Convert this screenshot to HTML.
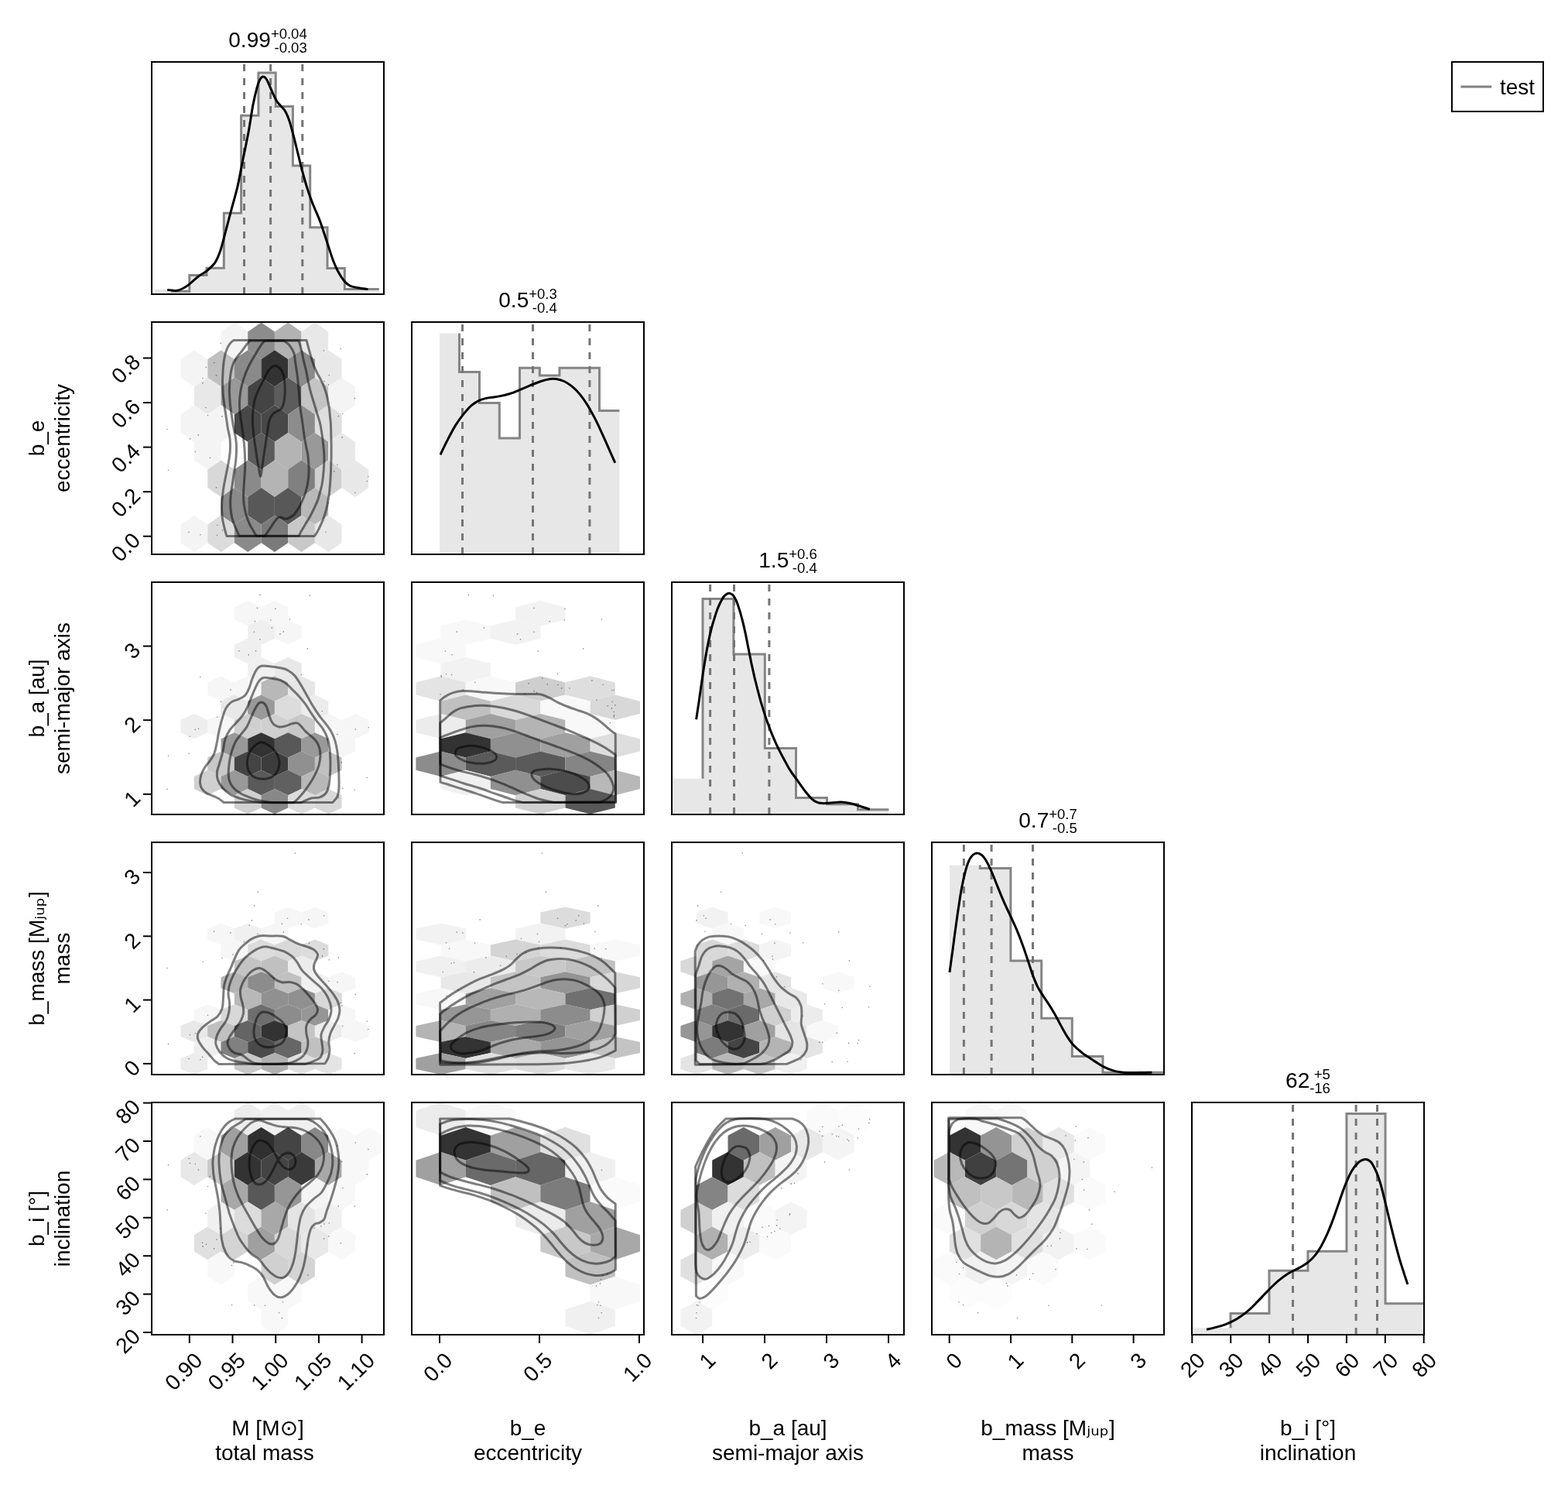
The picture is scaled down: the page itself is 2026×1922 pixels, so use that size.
<!DOCTYPE html>
<html lang="en"><head><meta charset="utf-8"><title>Corner plot</title>
<style>
html,body{margin:0;padding:0;background:#fff;}
body{width:2026px;height:1922px;overflow:hidden;}
svg{display:block;}
.t, .t text{font-family:"Liberation Sans","DejaVu Sans",sans-serif;font-size:28px;fill:#000;}
.dj{font-family:"DejaVu Sans","Liberation Sans",sans-serif;}
.sub{font-size:28.5px;}
.t text.ss{font-size:18.5px;}
</style></head><body>
<svg width="2026" height="1922" viewBox="0 0 2026 1922">
<rect width="2026" height="1922" fill="#fff"/>
<g><clipPath id="c00"><rect x="196" y="80" width="300" height="300"/></clipPath>
<g clip-path="url(#c00)">
<path d="M200.2,380L200.2,373.8L222.5,373.8L222.5,376.3L244.8,376.3L244.8,355.6L267.0,355.6L267.0,346.3L289.3,346.3L289.3,275.3L311.6,275.3L311.6,149.2L333.9,149.2L333.9,94.1L356.2,94.1L356.2,137.6L378.4,137.6L378.4,214.1L400.7,214.1L400.7,293.8L423.0,293.8L423.0,346.4L445.3,346.4L445.3,373.5L467.6,373.5L467.6,373.5L489.8,373.5L489.8,380Z" fill="#e7e7e7"/>
<path d="M222.5,373.8L222.5,376.3L244.8,376.3L244.8,355.6L267.0,355.6L267.0,346.3L289.3,346.3L289.3,275.3L311.6,275.3L311.6,149.2L333.9,149.2L333.9,94.1L356.2,94.1L356.2,137.6L378.4,137.6L378.4,214.1L400.7,214.1L400.7,293.8L423.0,293.8L423.0,346.4L445.3,346.4L445.3,373.5L467.6,373.5L467.6,373.5L489.8,373.5" fill="none" stroke="#858585" stroke-width="3" stroke-linejoin="miter"/>
<line x1="315.5" y1="83" x2="315.5" y2="380" stroke="#757575" stroke-width="3" stroke-dasharray="9 9"/>
<line x1="349.6" y1="83" x2="349.6" y2="380" stroke="#757575" stroke-width="3" stroke-dasharray="9 9"/>
<line x1="390.8" y1="83" x2="390.8" y2="380" stroke="#757575" stroke-width="3" stroke-dasharray="9 9"/>
<path d="M216.2,374.4C218.1,374.6 224.1,375.5 227.1,375.4C230.1,375.2 231.7,374.7 234.4,373.5C237.1,372.3 239.8,370.8 243.4,368.1C247.1,365.4 252.2,360.2 256.1,357.2C260.0,354.2 263.4,353.0 267.0,350.0C270.6,347.0 274.8,343.6 277.9,339.1C280.9,334.6 282.7,330.0 285.1,322.8C287.5,315.5 290.0,304.7 292.4,295.6C294.8,286.5 297.2,277.5 299.6,268.4C302.0,259.4 304.4,251.8 306.9,241.2C309.3,230.7 311.7,217.1 314.1,205.0C316.5,192.9 319.3,180.2 321.4,168.7C323.5,157.3 325.0,145.5 326.8,136.1C328.6,126.8 330.7,118.1 332.2,112.6C333.7,107.0 334.7,104.9 335.9,102.6C337.1,100.3 338.3,99.3 339.5,99.0C340.7,98.7 341.9,99.4 343.1,100.8C344.3,102.1 345.2,103.9 346.7,107.1C348.2,110.3 350.4,115.9 352.2,119.8C354.0,123.7 355.8,127.8 357.6,130.7C359.4,133.6 361.2,134.9 363.0,137.0C364.9,139.1 366.7,140.2 368.5,143.4C370.3,146.5 372.1,150.6 373.9,156.1C375.7,161.5 377.5,169.0 379.4,176.0C381.2,182.9 383.0,190.5 384.8,197.7C386.6,205.0 388.1,211.6 390.2,219.5C392.3,227.3 395.1,237.3 397.5,244.9C399.9,252.4 402.0,257.9 404.7,264.8C407.5,271.7 410.8,278.4 413.8,286.5C416.8,294.7 420.1,305.6 422.9,313.7C425.6,321.9 427.7,329.1 430.1,335.5C432.5,341.8 434.9,347.3 437.4,351.8C439.8,356.3 442.2,359.8 444.6,362.7C447.0,365.5 448.8,367.5 451.9,369.0C454.9,370.5 458.8,371.0 462.7,371.7C466.7,372.5 473.3,373.2 475.4,373.5" fill="none" stroke="#000" stroke-width="3" stroke-linejoin="round"/>
</g></g>
<rect x="196" y="80" width="300" height="300" fill="none" stroke="#000" stroke-width="2"/>
<g><clipPath id="c10"><rect x="196" y="416" width="300" height="300"/></clipPath>
<g clip-path="url(#c10)">
<polygon points="302.9,416.6 320.2,428.5 320.2,452.2 302.9,464.0 285.6,452.2 285.6,428.5" fill="#f4f4f4"/>
<polygon points="337.6,416.6 354.9,428.5 354.9,452.2 337.6,464.0 320.2,452.2 320.2,428.5" fill="#8c8c8c"/>
<polygon points="372.2,416.6 389.5,428.5 389.5,452.2 372.2,464.0 354.9,452.2 354.9,428.5" fill="#b2b2b2"/>
<polygon points="406.9,416.6 424.2,428.5 424.2,452.2 406.9,464.0 389.6,452.2 389.6,428.5" fill="#e8e8e8"/>
<polygon points="250.9,452.2 268.3,464.0 268.3,487.8 250.9,499.6 233.6,487.8 233.6,464.0" fill="#f4f4f4"/>
<polygon points="285.6,452.2 302.9,464.0 302.9,487.8 285.6,499.6 268.3,487.8 268.3,464.0" fill="#c0c0c0"/>
<polygon points="320.2,452.2 337.6,464.0 337.6,487.8 320.2,499.6 302.9,487.8 302.9,464.0" fill="#8a8a8a"/>
<polygon points="354.9,452.2 372.2,464.0 372.2,487.8 354.9,499.6 337.6,487.8 337.6,464.0" fill="#333333"/>
<polygon points="389.5,452.2 406.9,464.0 406.9,487.8 389.5,499.6 372.2,487.8 372.2,464.0" fill="#8a8a8a"/>
<polygon points="424.2,452.2 441.5,464.0 441.5,487.8 424.2,499.6 406.9,487.8 406.9,464.0" fill="#e8e8e8"/>
<polygon points="268.3,487.8 285.6,499.6 285.6,523.3 268.3,535.2 250.9,523.3 250.9,499.6" fill="#e8e8e8"/>
<polygon points="302.9,487.8 320.2,499.6 320.2,523.3 302.9,535.2 285.6,523.3 285.6,499.6" fill="#999999"/>
<polygon points="337.6,487.8 354.9,499.6 354.9,523.3 337.6,535.2 320.2,523.3 320.2,499.6" fill="#444444"/>
<polygon points="372.2,487.8 389.5,499.6 389.5,523.3 372.2,535.2 354.9,523.3 354.9,499.6" fill="#5c5c5c"/>
<polygon points="406.9,487.8 424.2,499.6 424.2,523.3 406.9,535.2 389.6,523.3 389.6,499.6" fill="#c4c4c4"/>
<polygon points="441.5,487.8 458.8,499.6 458.8,523.3 441.5,535.2 424.2,523.3 424.2,499.6" fill="#f4f4f4"/>
<polygon points="250.9,523.3 268.3,535.2 268.3,558.9 250.9,570.8 233.6,558.9 233.6,535.2" fill="#f4f4f4"/>
<polygon points="285.6,523.3 302.9,535.2 302.9,558.9 285.6,570.8 268.3,558.9 268.3,535.2" fill="#f4f4f4"/>
<polygon points="320.2,523.3 337.6,535.2 337.6,558.9 320.2,570.8 302.9,558.9 302.9,535.2" fill="#484848"/>
<polygon points="354.9,523.3 372.2,535.2 372.2,558.9 354.9,570.8 337.6,558.9 337.6,535.2" fill="#484848"/>
<polygon points="389.5,523.3 406.9,535.2 406.9,558.9 389.5,570.8 372.2,558.9 372.2,535.2" fill="#8c8c8c"/>
<polygon points="424.2,523.3 441.5,535.2 441.5,558.9 424.2,570.8 406.9,558.9 406.9,535.2" fill="#dedede"/>
<polygon points="268.3,558.9 285.6,570.8 285.6,594.5 268.3,606.4 250.9,594.5 250.9,570.8" fill="#f4f4f4"/>
<polygon points="337.6,558.9 354.9,570.8 354.9,594.5 337.6,606.4 320.2,594.5 320.2,570.8" fill="#5c5c5c"/>
<polygon points="372.2,558.9 389.5,570.8 389.5,594.5 372.2,606.4 354.9,594.5 354.9,570.8" fill="#b4b4b4"/>
<polygon points="406.9,558.9 424.2,570.8 424.2,594.5 406.9,606.4 389.6,594.5 389.6,570.8" fill="#999999"/>
<polygon points="441.5,558.9 458.8,570.8 458.8,594.5 441.5,606.4 424.2,594.5 424.2,570.8" fill="#e8e8e8"/>
<polygon points="285.6,594.5 302.9,606.4 302.9,630.1 285.6,641.9 268.3,630.1 268.3,606.4" fill="#d8d8d8"/>
<polygon points="320.2,594.5 337.6,606.4 337.6,630.1 320.2,641.9 302.9,630.1 302.9,606.4" fill="#8a8a8a"/>
<polygon points="354.9,594.5 372.2,606.4 372.2,630.1 354.9,641.9 337.6,630.1 337.6,606.4" fill="#b4b4b4"/>
<polygon points="389.5,594.5 406.9,606.4 406.9,630.1 389.5,641.9 372.2,630.1 372.2,606.4" fill="#808080"/>
<polygon points="424.2,594.5 441.5,606.4 441.5,630.1 424.2,641.9 406.9,630.1 406.9,606.4" fill="#d0d0d0"/>
<polygon points="458.8,594.5 476.2,606.4 476.2,630.1 458.8,641.9 441.5,630.1 441.5,606.4" fill="#e8e8e8"/>
<polygon points="302.9,630.1 320.2,641.9 320.2,665.7 302.9,677.5 285.6,665.7 285.6,641.9" fill="#8a8a8a"/>
<polygon points="337.6,630.1 354.9,641.9 354.9,665.7 337.6,677.5 320.2,665.7 320.2,641.9" fill="#585858"/>
<polygon points="372.2,630.1 389.5,641.9 389.5,665.7 372.2,677.5 354.9,665.7 354.9,641.9" fill="#585858"/>
<polygon points="406.9,630.1 424.2,641.9 424.2,665.7 406.9,677.5 389.6,665.7 389.6,641.9" fill="#b8b8b8"/>
<polygon points="250.9,665.7 268.3,677.5 268.3,701.2 250.9,713.1 233.6,701.2 233.6,677.5" fill="#f4f4f4"/>
<polygon points="285.6,665.7 302.9,677.5 302.9,701.2 285.6,713.1 268.3,701.2 268.3,677.5" fill="#dcdcdc"/>
<polygon points="320.2,665.7 337.6,677.5 337.6,701.2 320.2,713.1 302.9,701.2 302.9,677.5" fill="#8a8a8a"/>
<polygon points="354.9,665.7 372.2,677.5 372.2,701.2 354.9,713.1 337.6,701.2 337.6,677.5" fill="#7a7a7a"/>
<polygon points="389.5,665.7 406.9,677.5 406.9,701.2 389.5,713.1 372.2,701.2 372.2,677.5" fill="#c8c8c8"/>
<polygon points="424.2,665.7 441.5,677.5 441.5,701.2 424.2,713.1 406.9,701.2 406.9,677.5" fill="#e8e8e8"/>
<path d="M285.3,443.4h0M276.9,468.6h0M266.3,474.3h0M279.5,484.9h0M261.9,488.5h0M261.9,494.9h0M265.9,526.5h0M268.5,536.5h0M286.9,537.9h0M216.0,554.5h0M256.3,561.9h0M245.4,566.9h0M252.4,583.5h0M271.5,591.3h0M217.6,607.3h0M279.5,629.9h0M418.3,453.0h0M440.2,450.6h0M425.3,484.5h0M418.9,492.5h0M424.3,496.9h0M458.2,514.5h0M442.8,534.5h0M437.3,537.5h0M442.2,564.9h0M435.9,600.5h0M431.9,608.9h0M475.8,615.5h0M474.2,621.5h0M458.8,636.5h0M424.3,649.3h0M244.0,687.4h0M258.9,690.8h0M280.9,678.2h0M280.5,691.2h0M287.5,684.8h0M420.9,687.2h0" stroke="#000" stroke-opacity="0.45" stroke-width="1.6" stroke-linecap="round" fill="none"/>
<path d="M302.0,439.5L396.0,439.5C396.3,440.4 396.9,442.8 397.6,445.3C398.2,447.8 399.2,451.4 400.1,454.4C400.9,457.5 401.7,460.5 402.6,463.5C403.5,466.6 404.5,469.6 405.6,472.6C406.8,475.7 408.2,478.7 409.7,481.7C411.2,484.8 413.2,487.8 414.7,490.8C416.3,493.9 417.6,496.9 418.8,499.9C420.0,503.0 421.0,506.0 421.8,509.0C422.7,512.1 423.3,515.1 423.8,518.1C424.4,521.2 424.9,524.0 425.4,527.2C425.8,530.4 426.0,534.0 426.4,537.3C426.7,540.7 427.1,542.6 427.4,547.4C427.6,552.2 427.8,561.3 427.9,566.1C428.0,570.9 428.1,572.9 428.1,576.2C428.1,579.6 428.1,583.0 428.1,586.3C428.1,589.7 428.0,593.1 427.9,596.4C427.8,599.8 427.7,603.2 427.6,606.6C427.5,609.9 427.3,613.3 427.1,616.7C426.9,620.0 426.7,623.4 426.4,626.8C426.1,630.1 425.8,633.5 425.4,636.9C424.9,640.3 424.4,643.6 423.8,647.0C423.3,650.4 422.7,653.7 421.8,657.1C421.0,660.5 420.0,663.9 418.8,667.2C417.6,670.6 416.3,674.0 414.7,677.3C413.2,680.7 411.1,684.9 409.7,687.4C408.3,690.0 406.7,691.7 406.2,692.5L292.9,692.5C292.6,691.3 291.6,688.0 290.9,685.4C290.2,682.9 289.5,680.4 288.9,677.3C288.2,674.3 287.5,670.6 287.1,667.2C286.8,663.9 286.6,660.5 286.5,657.1C286.5,653.7 286.6,650.4 286.8,647.0C287.1,643.6 287.4,640.3 287.9,636.9C288.3,633.5 288.8,630.1 289.4,626.8C290.0,623.4 290.7,620.0 291.4,616.7C292.1,613.3 292.7,609.9 293.4,606.6C294.1,603.2 294.8,599.8 295.4,596.4C296.0,593.1 296.6,589.7 297.0,586.3C297.3,583.0 297.5,579.6 297.5,576.2C297.5,572.9 297.5,569.9 297.0,566.1C296.4,562.3 295.1,557.3 294.4,553.5C293.7,549.7 293.4,546.8 292.9,543.4C292.4,540.0 291.9,536.7 291.4,533.3C290.9,529.9 290.3,526.5 289.9,523.2C289.4,519.8 288.9,516.4 288.6,513.1C288.2,509.7 288.0,506.3 287.9,503.0C287.7,499.6 287.5,496.2 287.5,492.8C287.5,489.5 287.7,486.1 287.9,482.7C288.0,479.4 288.2,476.0 288.6,472.6C288.9,469.3 289.3,465.5 289.9,462.5C290.4,459.5 291.1,457.0 291.9,454.4C292.7,451.9 293.8,449.4 294.9,447.3C296.0,445.3 297.3,443.6 298.5,442.3C299.6,441.0 301.4,439.9 302.0,439.5Z" fill="none" stroke="#000" stroke-opacity="0.5" stroke-width="3" stroke-linejoin="round"/>
<path d="M322.7,440.1L385.9,440.1C386.3,441.1 387.2,443.6 388.0,446.3C388.7,449.1 389.7,453.1 390.5,456.4C391.2,459.8 391.7,463.2 392.5,466.6C393.3,469.9 394.3,473.3 395.0,476.7C395.8,480.0 396.4,483.4 397.1,486.8C397.7,490.1 398.3,493.5 399.1,496.9C399.8,500.3 400.7,503.6 401.6,507.0C402.5,510.4 403.6,513.7 404.6,517.1C405.6,520.5 406.7,523.9 407.7,527.2C408.7,530.6 409.7,534.0 410.7,537.3C411.7,540.7 412.7,542.6 413.7,547.4C414.7,552.2 416.1,561.3 416.8,566.1C417.4,570.9 417.4,572.9 417.8,576.2C418.1,579.6 418.6,583.0 418.8,586.3C419.0,589.7 418.9,593.1 418.8,596.4C418.7,599.8 418.5,603.2 418.3,606.6C418.0,609.9 417.7,613.3 417.3,616.7C416.9,620.0 416.4,623.4 415.8,626.8C415.1,630.1 414.2,633.5 413.2,636.9C412.3,640.3 411.5,643.6 410.2,647.0C408.9,650.4 407.2,653.7 405.6,657.1C404.0,660.5 402.4,663.9 400.6,667.2C398.7,670.6 396.5,674.0 394.5,677.3C392.5,680.7 389.8,685.0 388.5,687.4C387.1,689.9 386.8,691.4 386.4,692.2L309.1,692.2C308.6,691.1 307.1,687.9 306.1,685.4C305.0,682.9 303.6,680.4 302.5,677.3C301.4,674.3 300.2,670.6 299.5,667.2C298.7,663.9 298.3,660.5 298.0,657.1C297.7,653.7 297.6,650.4 297.7,647.0C297.7,643.6 298.1,640.3 298.5,636.9C298.9,633.5 299.5,630.1 300.0,626.8C300.5,623.4 301.0,620.0 301.5,616.7C302.0,613.3 302.5,609.9 303.0,606.6C303.5,603.2 304.1,599.8 304.5,596.4C304.9,593.1 305.2,589.7 305.3,586.3C305.5,583.0 305.7,579.6 305.5,576.2C305.4,572.9 305.3,570.9 304.5,566.1C303.8,561.3 301.8,552.2 301.0,547.4C300.2,542.6 300.0,540.7 299.5,537.3C299.0,534.0 298.4,530.6 298.0,527.2C297.5,523.9 297.2,520.5 297.0,517.1C296.7,513.7 296.5,510.4 296.4,507.0C296.4,503.6 296.5,500.3 296.6,496.9C296.8,493.5 297.1,490.0 297.5,486.8C297.8,483.6 298.4,480.4 299.0,477.7C299.6,475.0 300.2,472.8 301.0,470.6C301.8,468.4 302.9,466.4 304.0,464.5C305.1,462.7 306.1,461.3 307.6,459.5C309.0,457.6 310.9,455.6 312.6,453.4C314.3,451.2 316.0,448.6 317.7,446.3C319.4,444.1 321.9,441.1 322.7,440.1Z" fill="none" stroke="#000" stroke-opacity="0.5" stroke-width="3" stroke-linejoin="round"/>
<path d="M341.9,440.3L367.2,440.3C368.4,441.3 372.2,443.6 374.3,446.3C376.4,449.0 378.7,453.1 379.9,456.4C381.0,459.8 380.9,463.2 381.4,466.6C381.9,469.9 382.4,473.3 382.9,476.7C383.4,480.0 384.0,483.4 384.4,486.8C384.8,490.1 385.1,493.5 385.4,496.9C385.8,500.3 386.2,503.6 386.4,507.0C386.7,510.4 386.7,513.7 386.9,517.1C387.2,520.5 387.5,523.9 388.0,527.2C388.4,530.6 389.0,534.0 389.5,537.3C390.0,540.7 390.3,542.6 391.0,547.4C391.7,552.2 392.8,561.3 393.5,566.1C394.3,570.9 394.9,572.9 395.5,576.2C396.2,579.6 397.1,583.0 397.6,586.3C398.1,589.7 398.3,593.1 398.6,596.4C398.8,599.8 399.1,603.2 399.1,606.6C399.1,609.9 398.9,613.3 398.6,616.7C398.2,620.0 397.7,623.4 397.1,626.8C396.4,630.1 395.6,633.5 394.5,636.9C393.4,640.3 392.0,643.6 390.5,647.0C389.0,650.4 387.3,654.1 385.4,657.1C383.6,660.1 381.4,663.2 379.4,665.2C377.3,667.2 375.1,668.4 373.3,669.2C371.4,670.1 369.9,670.4 368.2,670.3C366.5,670.1 364.7,668.5 363.2,668.2C361.7,668.0 360.5,667.9 359.1,668.7C357.8,669.6 356.4,671.5 355.1,673.3C353.7,675.1 352.4,677.3 351.0,679.4C349.7,681.4 348.3,683.6 347.0,685.4C345.7,687.3 344.4,689.4 343.5,690.5C342.5,691.6 341.8,691.9 341.4,692.2L331.3,692.2C330.7,691.2 329.2,688.9 327.8,686.4C326.4,684.0 324.3,680.5 322.7,677.3C321.2,674.1 319.8,670.6 318.7,667.2C317.6,663.9 316.8,660.5 316.2,657.1C315.5,653.7 315.1,650.4 314.8,647.0C314.6,643.6 314.6,640.3 314.6,636.9C314.7,633.5 314.9,630.1 315.2,626.8C315.4,623.4 315.6,620.0 315.9,616.7C316.1,613.3 316.3,609.9 316.5,606.6C316.6,603.2 316.7,599.8 316.7,596.4C316.7,593.1 316.5,589.7 316.4,586.3C316.2,583.0 315.9,579.6 315.7,576.2C315.4,572.9 315.2,570.9 314.6,566.1C314.1,561.3 312.8,552.2 312.1,547.4C311.4,542.6 311.0,540.7 310.6,537.3C310.2,534.0 309.8,530.6 309.6,527.2C309.4,523.9 309.4,520.5 309.6,517.1C309.8,513.7 310.1,510.4 310.6,507.0C311.1,503.6 311.8,500.3 312.6,496.9C313.5,493.5 314.5,490.1 315.7,486.8C316.8,483.4 318.2,480.0 319.7,476.7C321.2,473.3 322.9,469.9 324.8,466.6C326.6,463.2 328.8,459.8 330.8,456.4C332.8,453.1 335.0,449.0 336.9,446.3C338.7,443.6 341.1,441.3 341.9,440.3Z" fill="none" stroke="#000" stroke-opacity="0.5" stroke-width="3" stroke-linejoin="round"/>
<path d="M355.1,472.6C356.4,472.5 357.8,472.8 359.1,473.6C360.5,474.5 362.0,475.8 363.2,477.7C364.4,479.5 365.5,482.2 366.2,484.8C367.0,487.3 367.4,489.8 367.7,492.8C368.1,495.9 368.2,499.6 368.2,503.0C368.2,506.3 368.1,509.9 367.7,513.1C367.4,516.3 367.0,519.6 366.2,522.2C365.5,524.7 364.5,526.7 363.2,528.2C361.8,529.8 359.8,530.3 358.1,531.3C356.4,532.3 354.5,533.0 353.1,534.3C351.6,535.6 350.5,537.5 349.5,539.4C348.6,541.2 348.3,541.8 347.5,545.4C346.7,549.0 345.7,556.8 345.0,561.1C344.3,565.3 344.0,567.8 343.5,571.2C343.0,574.5 342.5,577.9 341.9,581.3C341.4,584.6 340.9,588.0 340.4,591.4C339.9,594.8 339.4,598.1 338.9,601.5C338.5,604.9 338.1,609.3 337.7,611.6C337.3,613.9 337.0,615.5 336.6,615.5C336.2,615.5 335.8,613.4 335.5,611.6C335.1,609.8 334.8,607.1 334.4,604.5C333.9,602.0 333.4,599.5 332.8,596.4C332.3,593.4 331.8,589.7 331.3,586.3C330.8,583.0 330.3,579.6 329.8,576.2C329.3,572.9 328.9,570.9 328.3,566.1C327.7,561.3 326.8,552.2 326.5,547.4C326.2,542.6 326.3,540.7 326.5,537.3C326.6,534.0 326.9,530.4 327.3,527.2C327.7,524.0 328.1,521.0 328.8,518.1C329.5,515.3 330.3,512.7 331.3,510.0C332.3,507.3 333.6,504.6 334.9,501.9C336.1,499.2 337.6,496.6 338.9,493.9C340.3,491.2 341.6,488.3 343.0,485.8C344.3,483.2 345.7,480.6 347.0,478.7C348.3,476.8 349.7,475.2 351.0,474.1C352.4,473.1 353.7,472.7 355.1,472.6Z" fill="none" stroke="#000" stroke-opacity="0.5" stroke-width="3" stroke-linejoin="round"/>
</g></g>
<rect x="196" y="416" width="300" height="300" fill="none" stroke="#000" stroke-width="2"/>
<g><clipPath id="c11"><rect x="532" y="416" width="300" height="300"/></clipPath>
<g clip-path="url(#c11)">
<path d="M568.0,716L568.0,430.6L593.5,430.6L593.5,480.5L619.5,480.5L619.5,520.5L645.3,520.5L645.3,565.9L671.5,565.9L671.5,475.3L697.3,475.3L697.3,484.9L722.9,484.9L722.9,475.3L748.9,475.3L748.9,475.3L774.5,475.3L774.5,530.5L800.4,530.5L800.4,716Z" fill="#e7e7e7"/>
<path d="M593.5,430.6L593.5,480.5L619.5,480.5L619.5,520.5L645.3,520.5L645.3,565.9L671.5,565.9L671.5,475.3L697.3,475.3L697.3,484.9L722.9,484.9L722.9,475.3L748.9,475.3L748.9,475.3L774.5,475.3L774.5,530.5L800.4,530.5" fill="none" stroke="#858585" stroke-width="3" stroke-linejoin="miter"/>
<line x1="597.5" y1="419" x2="597.5" y2="716" stroke="#757575" stroke-width="3" stroke-dasharray="9 9"/>
<line x1="688.5" y1="419" x2="688.5" y2="716" stroke="#757575" stroke-width="3" stroke-dasharray="9 9"/>
<line x1="761.9" y1="419" x2="761.9" y2="716" stroke="#757575" stroke-width="3" stroke-dasharray="9 9"/>
<path d="M569.0,587.3C570.6,583.9 575.6,573.3 579.0,566.9C582.3,560.5 585.6,554.2 588.9,548.9C592.3,543.6 595.6,539.1 598.9,534.9C602.3,530.8 605.6,526.9 608.9,523.9C612.3,521.0 615.3,519.0 618.9,517.3C622.6,515.7 626.6,514.8 630.9,513.9C635.3,513.0 640.3,512.8 644.9,511.9C649.6,511.0 654.6,509.9 658.9,508.5C663.2,507.2 666.6,505.7 670.9,503.9C675.2,502.2 680.2,499.8 684.9,497.9C689.6,496.0 694.6,493.9 698.9,492.5C703.2,491.1 707.6,490.0 710.9,489.5C714.2,489.0 715.9,489.0 718.9,489.5C721.9,490.0 725.5,491.0 728.9,492.5C732.2,494.1 735.5,496.2 738.9,498.9C742.2,501.7 745.5,504.9 748.9,508.9C752.2,512.9 755.5,517.6 758.9,522.9C762.2,528.3 765.5,534.4 768.9,540.9C772.2,547.4 775.9,555.4 778.8,561.9C781.8,568.4 784.2,573.9 786.8,579.9C789.5,585.9 793.5,594.9 794.8,597.9" fill="none" stroke="#000" stroke-width="3" stroke-linejoin="round"/>
</g></g>
<rect x="532" y="416" width="300" height="300" fill="none" stroke="#000" stroke-width="2"/>
<g><clipPath id="c20"><rect x="196" y="752" width="300" height="300"/></clipPath>
<g clip-path="url(#c20)">
<polygon points="320.2,776.1 337.5,784.2 337.5,800.4 320.2,808.5 302.8,800.4 302.8,784.2" fill="#f6f6f6"/>
<polygon points="354.9,776.1 372.2,784.2 372.2,800.4 354.9,808.5 337.5,800.4 337.5,784.2" fill="#f6f6f6"/>
<polygon points="337.5,800.4 354.9,808.5 354.9,824.7 337.5,832.8 320.2,824.7 320.2,808.5" fill="#efefef"/>
<polygon points="372.2,800.4 389.6,808.5 389.6,824.7 372.2,832.8 354.9,824.7 354.9,808.5" fill="#f6f6f6"/>
<polygon points="320.2,824.7 337.5,832.8 337.5,849.0 320.2,857.1 302.8,849.0 302.8,832.8" fill="#efefef"/>
<polygon points="337.5,849.0 354.9,857.1 354.9,873.3 337.5,881.4 320.2,873.3 320.2,857.1" fill="#f0f0f0"/>
<polygon points="372.2,849.0 389.6,857.1 389.6,873.3 372.2,881.4 354.9,873.3 354.9,857.1" fill="#e8e8e8"/>
<polygon points="285.5,873.3 302.8,881.4 302.8,897.6 285.5,905.7 268.1,897.6 268.1,881.4" fill="#f6f6f6"/>
<polygon points="320.2,873.3 337.5,881.4 337.5,897.6 320.2,905.7 302.8,897.6 302.8,881.4" fill="#f6f6f6"/>
<polygon points="354.9,873.3 372.2,881.4 372.2,897.6 354.9,905.7 337.5,897.6 337.5,881.4" fill="#b8b8b8"/>
<polygon points="389.6,873.3 406.9,881.4 406.9,897.6 389.6,905.7 372.2,897.6 372.2,881.4" fill="#e6e6e6"/>
<polygon points="302.8,897.6 320.2,905.7 320.2,921.9 302.8,930.0 285.5,921.9 285.5,905.7" fill="#e8e8e8"/>
<polygon points="337.5,897.6 354.9,905.7 354.9,921.9 337.5,930.0 320.2,921.9 320.2,905.7" fill="#999999"/>
<polygon points="372.2,897.6 389.6,905.7 389.6,921.9 372.2,930.0 354.9,921.9 354.9,905.7" fill="#dcdcdc"/>
<polygon points="406.9,897.6 424.3,905.7 424.3,921.9 406.9,930.0 389.6,921.9 389.6,905.7" fill="#ececec"/>
<polygon points="250.8,921.9 268.1,930.0 268.1,946.2 250.8,954.3 233.4,946.2 233.4,930.0" fill="#eeeeee"/>
<polygon points="285.5,921.9 302.8,930.0 302.8,946.2 285.5,954.3 268.1,946.2 268.1,930.0" fill="#f6f6f6"/>
<polygon points="320.2,921.9 337.5,930.0 337.5,946.2 320.2,954.3 302.8,946.2 302.8,930.0" fill="#d0d0d0"/>
<polygon points="354.9,921.9 372.2,930.0 372.2,946.2 354.9,954.3 337.5,946.2 337.5,930.0" fill="#d0d0d0"/>
<polygon points="389.6,921.9 406.9,930.0 406.9,946.2 389.6,954.3 372.2,946.2 372.2,930.0" fill="#c8c8c8"/>
<polygon points="424.3,921.9 441.6,930.0 441.6,946.2 424.3,954.3 406.9,946.2 406.9,930.0" fill="#f6f6f6"/>
<polygon points="459.0,921.9 476.4,930.0 476.4,946.2 459.0,954.3 441.6,946.2 441.6,930.0" fill="#f6f6f6"/>
<polygon points="302.8,946.2 320.2,954.3 320.2,970.5 302.8,978.6 285.5,970.5 285.5,954.3" fill="#999999"/>
<polygon points="337.5,946.2 354.9,954.3 354.9,970.5 337.5,978.6 320.2,970.5 320.2,954.3" fill="#333333"/>
<polygon points="372.2,946.2 389.6,954.3 389.6,970.5 372.2,978.6 354.9,970.5 354.9,954.3" fill="#585858"/>
<polygon points="406.9,946.2 424.3,954.3 424.3,970.5 406.9,978.6 389.6,970.5 389.6,954.3" fill="#999999"/>
<polygon points="441.6,946.2 459.0,954.3 459.0,970.5 441.6,978.6 424.3,970.5 424.3,954.3" fill="#f6f6f6"/>
<polygon points="285.5,970.5 302.8,978.6 302.8,994.8 285.5,1002.9 268.1,994.8 268.1,978.6" fill="#c8c8c8"/>
<polygon points="320.2,970.5 337.5,978.6 337.5,994.8 320.2,1002.9 302.8,994.8 302.8,978.6" fill="#444444"/>
<polygon points="354.9,970.5 372.2,978.6 372.2,994.8 354.9,1002.9 337.5,994.8 337.5,978.6" fill="#3c3c3c"/>
<polygon points="389.6,970.5 406.9,978.6 406.9,994.8 389.6,1002.9 372.2,994.8 372.2,978.6" fill="#909090"/>
<polygon points="424.3,970.5 441.6,978.6 441.6,994.8 424.3,1002.9 406.9,994.8 406.9,978.6" fill="#c0c0c0"/>
<polygon points="268.1,994.8 285.5,1002.9 285.5,1019.1 268.1,1027.2 250.8,1019.1 250.8,1002.9" fill="#d0d0d0"/>
<polygon points="302.8,994.8 320.2,1002.9 320.2,1019.1 302.8,1027.2 285.5,1019.1 285.5,1002.9" fill="#999999"/>
<polygon points="337.5,994.8 354.9,1002.9 354.9,1019.1 337.5,1027.2 320.2,1019.1 320.2,1002.9" fill="#5a5a5a"/>
<polygon points="372.2,994.8 389.6,1002.9 389.6,1019.1 372.2,1027.2 354.9,1019.1 354.9,1002.9" fill="#606060"/>
<polygon points="406.9,994.8 424.3,1002.9 424.3,1019.1 406.9,1027.2 389.6,1019.1 389.6,1002.9" fill="#b8b8b8"/>
<polygon points="320.2,1019.1 337.5,1027.2 337.5,1043.4 320.2,1051.5 302.8,1043.4 302.8,1027.2" fill="#d0d0d0"/>
<polygon points="354.9,1019.1 372.2,1027.2 372.2,1043.4 354.9,1051.5 337.5,1043.4 337.5,1027.2" fill="#888888"/>
<polygon points="389.6,1019.1 406.9,1027.2 406.9,1043.4 389.6,1051.5 372.2,1043.4 372.2,1027.2" fill="#dcdcdc"/>
<polygon points="424.3,1019.1 441.6,1027.2 441.6,1043.4 424.3,1051.5 406.9,1043.4 406.9,1027.2" fill="#d8d8d8"/>
<path d="M335.9,768.4h0M400.3,769.4h0M332.5,785.4h0M355.9,786.4h0M329.3,802.6h0M349.9,801.0h0M374.3,800.0h0M328.5,816.3h0M351.3,810.9h0M361.9,818.9h0M366.3,815.9h0M335.9,825.9h0M308.9,840.9h0M330.5,840.9h0M321.3,845.9h0M397.3,837.9h0M258.9,874.3h0M297.9,890.9h0M389.3,871.5h0M285.3,906.3h0M280.9,926.3h0M416.3,918.5h0M252.4,942.3h0M256.5,941.3h0M245.4,951.3h0M435.9,948.5h0M459.2,942.1h0M476.2,939.7h0M244.0,973.3h0M217.6,976.3h0M441.4,984.9h0M474.2,1004.2h0M216.0,1019.4h0M442.8,1018.4h0M458.2,1020.2h0M437.5,1030.4h0" stroke="#000" stroke-opacity="0.45" stroke-width="1.6" stroke-linecap="round" fill="none"/>
<path d="M288.9,1036.4C287.9,1035.7 285.3,1033.3 282.9,1031.8C280.6,1030.4 277.6,1029.1 274.9,1027.8C272.3,1026.6 269.3,1025.9 266.9,1024.4C264.6,1022.9 262.3,1021.1 260.9,1018.8C259.5,1016.6 258.7,1013.8 258.5,1010.8C258.4,1007.8 258.9,1004.2 259.9,1000.8C261.0,997.5 262.9,994.0 264.9,990.9C266.9,987.7 269.9,984.9 271.9,981.9C273.9,978.9 275.6,976.4 276.9,972.9C278.3,969.4 278.9,965.5 279.9,960.9C280.9,956.2 281.8,950.2 282.9,944.9C284.1,939.5 285.4,933.9 286.9,928.9C288.4,923.9 289.9,918.6 291.9,914.9C293.9,911.2 296.1,908.9 298.9,906.9C301.8,904.9 305.9,904.4 308.9,902.9C311.9,901.4 314.8,900.2 316.9,897.9C319.1,895.6 320.4,892.4 321.9,888.9C323.4,885.4 324.4,880.7 325.9,876.9C327.4,873.1 329.2,868.6 330.9,865.9C332.6,863.3 334.2,861.9 335.9,860.9C337.6,859.9 338.4,859.9 340.9,859.9C343.4,859.9 347.6,860.5 350.9,860.9C354.2,861.4 357.6,861.8 360.9,862.5C364.2,863.3 367.6,863.6 370.9,865.3C374.2,867.1 377.9,869.7 380.9,872.9C383.9,876.2 386.2,880.6 388.9,884.9C391.5,889.2 394.2,894.2 396.9,898.9C399.5,903.6 402.2,908.6 404.9,912.9C407.5,917.2 410.2,921.2 412.9,924.9C415.5,928.6 418.4,931.6 420.9,934.9C423.4,938.2 425.9,941.2 427.9,944.9C429.9,948.5 431.5,952.5 432.9,956.9C434.2,961.2 435.1,965.9 435.9,970.9C436.6,975.9 436.9,981.5 437.3,986.9C437.6,992.2 437.8,997.5 437.9,1002.8C438.0,1008.2 438.2,1014.5 437.9,1018.8C437.5,1023.2 437.2,1025.9 435.9,1028.8C434.5,1031.8 430.9,1035.2 429.9,1036.4Z" fill="none" stroke="#000" stroke-opacity="0.5" stroke-width="3" stroke-linejoin="round"/>
<path d="M336.9,1036.4C334.6,1036.1 327.6,1035.4 322.9,1034.4C318.2,1033.5 313.3,1032.3 308.9,1030.8C304.6,1029.4 300.6,1028.2 296.9,1025.8C293.3,1023.5 289.5,1020.0 286.9,1016.8C284.3,1013.7 282.4,1010.2 281.3,1006.8C280.3,1003.5 280.1,1000.5 280.5,996.8C281.0,993.2 282.7,989.2 283.9,984.9C285.2,980.5 286.8,975.9 287.9,970.9C289.1,965.9 289.4,959.5 290.9,954.9C292.4,950.2 294.6,946.4 296.9,942.9C299.3,939.4 302.3,936.9 304.9,933.9C307.6,930.9 310.6,928.1 312.9,924.9C315.2,921.7 317.1,918.6 318.9,914.9C320.7,911.2 322.2,906.9 323.9,902.9C325.6,898.9 327.2,894.6 328.9,890.9C330.6,887.2 332.2,883.4 333.9,880.9C335.6,878.4 337.4,876.8 338.9,875.9C340.4,875.0 340.6,875.2 342.9,875.3C345.2,875.4 349.6,875.9 352.9,876.5C356.2,877.1 359.9,877.7 362.9,878.9C365.9,880.1 368.2,881.7 370.9,883.9C373.6,886.1 376.2,889.2 378.9,891.9C381.5,894.6 384.2,896.9 386.9,899.9C389.5,902.9 392.4,906.4 394.9,909.9C397.4,913.4 399.5,917.4 401.9,920.9C404.2,924.4 406.4,927.6 408.9,930.9C411.4,934.2 414.5,937.2 416.9,940.9C419.2,944.5 421.4,948.5 422.9,952.9C424.4,957.2 425.2,961.9 425.9,966.9C426.5,971.9 426.8,977.5 426.9,982.9C427.0,988.2 426.8,993.5 426.5,998.8C426.1,1004.2 425.8,1010.5 424.9,1014.8C423.9,1019.2 422.9,1022.3 420.9,1024.8C418.9,1027.3 415.9,1028.8 412.9,1029.8C409.9,1030.8 405.9,1030.2 402.9,1030.8C399.9,1031.5 397.2,1032.8 394.9,1033.8C392.5,1034.8 389.9,1036.3 388.9,1036.8Z" fill="none" stroke="#000" stroke-opacity="0.5" stroke-width="3" stroke-linejoin="round"/>
<path d="M350.9,1036.8C348.9,1036.5 343.2,1035.8 338.9,1034.8C334.6,1033.8 329.6,1032.5 324.9,1030.8C320.2,1029.2 314.9,1027.2 310.9,1024.8C306.9,1022.5 303.4,1019.8 300.9,1016.8C298.4,1013.8 296.9,1010.5 295.9,1006.8C295.0,1003.2 295.2,999.2 295.3,994.9C295.5,990.5 296.2,985.2 296.9,980.9C297.7,976.5 298.6,972.9 299.9,968.9C301.3,964.9 302.9,960.4 304.9,956.9C306.9,953.4 309.6,950.9 311.9,947.9C314.3,944.9 316.9,942.2 318.9,938.9C320.9,935.5 322.2,931.6 323.9,927.9C325.6,924.2 327.2,920.1 328.9,916.9C330.6,913.7 332.2,910.5 333.9,908.9C335.6,907.3 337.2,906.8 338.9,907.3C340.6,907.8 342.6,909.6 343.9,911.9C345.2,914.2 345.9,917.9 346.9,920.9C347.9,923.9 348.7,927.4 349.9,929.9C351.1,932.4 352.1,934.4 353.9,935.9C355.7,937.4 358.4,938.5 360.9,938.9C363.4,939.2 366.2,938.5 368.9,937.9C371.6,937.2 374.4,935.5 376.9,934.9C379.4,934.2 381.9,933.4 383.9,933.9C385.9,934.4 387.0,936.0 388.9,937.9C390.7,939.7 392.7,942.7 394.9,944.9C397.0,947.0 399.5,948.7 401.9,950.9C404.2,953.0 407.0,955.2 408.9,957.9C410.7,960.5 412.0,963.7 412.9,966.9C413.7,970.0 414.0,973.2 413.9,976.9C413.7,980.5 413.0,984.9 411.9,988.9C410.7,992.9 408.9,996.8 406.9,1000.8C404.9,1004.8 402.4,1009.0 399.9,1012.8C397.4,1016.7 394.5,1020.5 391.9,1023.8C389.2,1027.2 386.0,1030.7 383.9,1032.8C381.7,1035.0 379.7,1036.2 378.9,1036.8Z" fill="none" stroke="#000" stroke-opacity="0.5" stroke-width="3" stroke-linejoin="round"/>
<path d="M338.9,958.9C341.7,959.4 346.1,961.9 348.9,963.9C351.7,965.9 354.1,968.4 355.9,970.9C357.7,973.4 359.1,976.2 359.9,978.9C360.7,981.5 361.1,984.2 360.9,986.9C360.7,989.5 360.1,992.4 358.9,994.9C357.7,997.3 356.2,1000.0 353.9,1001.8C351.6,1003.7 348.1,1005.2 344.9,1005.8C341.7,1006.5 337.9,1006.3 334.9,1005.8C331.9,1005.3 329.2,1004.5 326.9,1002.8C324.6,1001.2 322.6,998.5 321.3,995.9C320.0,993.2 319.4,990.0 319.3,986.9C319.2,983.7 319.6,980.0 320.5,976.9C321.4,973.7 323.0,970.5 324.9,967.9C326.8,965.2 329.6,962.4 331.9,960.9C334.2,959.4 336.1,958.4 338.9,958.9Z" fill="none" stroke="#000" stroke-opacity="0.5" stroke-width="3" stroke-linejoin="round"/>
</g></g>
<rect x="196" y="752" width="300" height="300" fill="none" stroke="#000" stroke-width="2"/>
<g><clipPath id="c21"><rect x="532" y="752" width="300" height="300"/></clipPath>
<g clip-path="url(#c21)">
<polygon points="698.3,776.1 730.5,784.2 730.5,800.4 698.3,808.5 666.1,800.4 666.1,784.2" fill="#f2f2f2"/>
<polygon points="601.7,800.4 633.9,808.5 633.9,824.7 601.7,832.8 569.6,824.7 569.6,808.5" fill="#f8f8f8"/>
<polygon points="666.1,800.4 698.3,808.5 698.3,824.7 666.1,832.8 633.9,824.7 633.9,808.5" fill="#f2f2f2"/>
<polygon points="569.6,824.7 601.7,832.8 601.7,849.0 569.6,857.1 537.4,849.0 537.4,832.8" fill="#f8f8f8"/>
<polygon points="601.7,849.0 633.9,857.1 633.9,873.3 601.7,881.4 569.6,873.3 569.6,857.1" fill="#f2f2f2"/>
<polygon points="569.6,873.3 601.7,881.4 601.7,897.6 569.6,905.7 537.4,897.6 537.4,881.4" fill="#e4e4e4"/>
<polygon points="633.9,873.3 666.1,881.4 666.1,897.6 633.9,905.7 601.7,897.6 601.7,881.4" fill="#f8f8f8"/>
<polygon points="698.3,873.3 730.5,881.4 730.5,897.6 698.3,905.7 666.1,897.6 666.1,881.4" fill="#cecece"/>
<polygon points="762.7,873.3 794.8,881.4 794.8,897.6 762.7,905.7 730.5,897.6 730.5,881.4" fill="#dedede"/>
<polygon points="601.7,897.6 633.9,905.7 633.9,921.9 601.7,930.0 569.6,921.9 569.6,905.7" fill="#c0c0c0"/>
<polygon points="666.1,897.6 698.3,905.7 698.3,921.9 666.1,930.0 633.9,921.9 633.9,905.7" fill="#d8d8d8"/>
<polygon points="730.5,897.6 762.7,905.7 762.7,921.9 730.5,930.0 698.3,921.9 698.3,905.7" fill="#f8f8f8"/>
<polygon points="794.8,897.6 827.0,905.7 827.0,921.9 794.8,930.0 762.7,921.9 762.7,905.7" fill="#d8d8d8"/>
<polygon points="569.6,921.9 601.7,930.0 601.7,946.2 569.6,954.3 537.4,946.2 537.4,930.0" fill="#ececec"/>
<polygon points="633.9,921.9 666.1,930.0 666.1,946.2 633.9,954.3 601.7,946.2 601.7,930.0" fill="#a0a0a0"/>
<polygon points="698.3,921.9 730.5,930.0 730.5,946.2 698.3,954.3 666.1,946.2 666.1,930.0" fill="#b4b4b4"/>
<polygon points="762.7,921.9 794.8,930.0 794.8,946.2 762.7,954.3 730.5,946.2 730.5,930.0" fill="#f8f8f8"/>
<polygon points="601.7,946.2 633.9,954.3 633.9,970.5 601.7,978.6 569.6,970.5 569.6,954.3" fill="#333333"/>
<polygon points="666.1,946.2 698.3,954.3 698.3,970.5 666.1,978.6 633.9,970.5 633.9,954.3" fill="#909090"/>
<polygon points="730.5,946.2 762.7,954.3 762.7,970.5 730.5,978.6 698.3,970.5 698.3,954.3" fill="#a0a0a0"/>
<polygon points="794.8,946.2 827.0,954.3 827.0,970.5 794.8,978.6 762.7,970.5 762.7,954.3" fill="#dedede"/>
<polygon points="569.6,970.5 601.7,978.6 601.7,994.8 569.6,1002.9 537.4,994.8 537.4,978.6" fill="#8c8c8c"/>
<polygon points="633.9,970.5 666.1,978.6 666.1,994.8 633.9,1002.9 601.7,994.8 601.7,978.6" fill="#5a5a5a"/>
<polygon points="698.3,970.5 730.5,978.6 730.5,994.8 698.3,1002.9 666.1,994.8 666.1,978.6" fill="#5a5a5a"/>
<polygon points="762.7,970.5 794.8,978.6 794.8,994.8 762.7,1002.9 730.5,994.8 730.5,978.6" fill="#858585"/>
<polygon points="601.7,994.8 633.9,1002.9 633.9,1019.1 601.7,1027.2 569.6,1019.1 569.6,1002.9" fill="#f0f0f0"/>
<polygon points="666.1,994.8 698.3,1002.9 698.3,1019.1 666.1,1027.2 633.9,1019.1 633.9,1002.9" fill="#909090"/>
<polygon points="730.5,994.8 762.7,1002.9 762.7,1019.1 730.5,1027.2 698.3,1019.1 698.3,1002.9" fill="#4c4c4c"/>
<polygon points="794.8,994.8 827.0,1002.9 827.0,1019.1 794.8,1027.2 762.7,1019.1 762.7,1002.9" fill="#b8b8b8"/>
<polygon points="698.3,1019.1 730.5,1027.2 730.5,1043.4 698.3,1051.5 666.1,1043.4 666.1,1027.2" fill="#d0d0d0"/>
<polygon points="762.7,1019.1 794.8,1027.2 794.8,1043.4 762.7,1051.5 730.5,1043.4 730.5,1027.2" fill="#585858"/>
<path d="M605.3,768.4h0M637.5,769.4h0M689.9,785.4h0M729.9,786.6h0M729.3,801.0h0M710.3,802.6h0M777.4,800.0h0M590.3,816.1h0M625.3,810.9h0M668.5,818.9h0M689.9,816.3h0M672.5,825.9h0M575.4,841.1h0M584.2,845.7h0M695.3,840.9h0M753.7,837.9h0M576.6,870.7h0M583.6,871.5h0M570.0,872.9h0M570.4,874.3h0M613.9,881.3h0M598.1,890.9h0M569.0,896.7h0M720.5,870.5h0M700.9,876.3h0M682.9,882.9h0M707.3,883.9h0M720.9,884.5h0M725.5,888.9h0M735.9,888.9h0M690.3,892.9h0M693.5,894.9h0M678.3,896.3h0M764.9,878.9h0M779.2,884.3h0M790.8,891.7h0M793.2,891.3h0M770.9,904.1h0M791.2,906.5h0M794.8,910.9h0M785.4,911.7h0M790.4,914.9h0M793.2,919.5h0M793.4,923.9h0M793.4,925.9h0M788.4,933.5h0" stroke="#000" stroke-opacity="0.45" stroke-width="1.6" stroke-linecap="round" fill="none"/>
<path d="M568.6,904.9C569.6,904.1 572.2,901.6 575.0,899.9C577.7,898.2 581.3,896.1 585.0,894.9C588.6,893.7 592.6,892.8 596.9,892.5C601.3,892.2 605.9,892.6 610.9,892.9C615.9,893.2 621.6,893.9 626.9,894.3C632.3,894.7 637.6,895.2 642.9,895.5C648.3,895.8 653.6,896.1 658.9,896.3C664.2,896.5 669.6,896.5 674.9,896.5C680.2,896.5 686.6,896.3 690.9,896.5C695.2,896.7 697.6,896.6 700.9,897.5C704.2,898.4 707.6,900.3 710.9,901.9C714.2,903.5 717.2,905.5 720.9,907.3C724.5,909.1 728.9,910.9 732.9,912.5C736.9,914.1 740.9,915.5 744.9,916.9C748.9,918.3 753.2,919.4 756.9,920.9C760.5,922.4 763.5,923.9 766.9,925.9C770.2,927.9 773.9,930.6 776.8,932.9C779.8,935.2 782.5,937.9 784.8,939.9C787.2,941.9 789.1,943.5 790.8,944.9C792.6,946.2 794.5,947.4 795.2,947.9L795.6,1036.2L648.9,1036.4C646.6,1035.7 640.6,1033.8 634.9,1031.8C629.3,1029.9 621.6,1027.1 614.9,1024.8C608.3,1022.6 600.9,1020.4 594.9,1018.4C588.9,1016.5 583.3,1014.6 579.0,1013.2C574.6,1011.9 570.6,1010.9 569.0,1010.4Z" fill="none" stroke="#000" stroke-opacity="0.5" stroke-width="3" stroke-linejoin="round"/>
<path d="M568.6,933.9C570.0,932.7 574.2,929.2 577.0,926.9C579.7,924.6 582.0,921.9 585.0,919.9C588.0,917.9 591.3,916.1 594.9,914.9C598.6,913.7 602.6,913.1 606.9,912.5C611.3,911.9 616.3,911.4 620.9,911.3C625.6,911.2 629.9,911.4 634.9,911.9C639.9,912.4 645.6,913.4 650.9,914.5C656.2,915.6 661.6,916.9 666.9,918.5C672.2,920.1 677.6,922.0 682.9,923.9C688.2,925.8 693.6,927.9 698.9,929.9C704.2,931.9 709.6,933.9 714.9,935.9C720.2,937.9 725.5,939.7 730.9,941.9C736.2,944.0 741.5,946.5 746.9,948.9C752.2,951.2 757.9,953.5 762.9,955.9C767.9,958.2 772.9,960.7 776.8,962.9C780.8,965.0 783.8,966.9 786.8,968.9C789.9,970.9 793.8,973.9 795.2,974.9L795.6,1036.2L674.9,1036.4C672.2,1035.7 664.9,1033.8 658.9,1031.8C652.9,1029.9 645.6,1027.2 638.9,1024.8C632.3,1022.5 625.6,1020.0 618.9,1017.8C612.3,1015.7 605.3,1013.8 598.9,1011.8C592.6,1009.8 586.0,1007.5 581.0,1005.8C576.0,1004.2 571.0,1002.5 569.0,1001.8Z" fill="none" stroke="#000" stroke-opacity="0.5" stroke-width="3" stroke-linejoin="round"/>
<path d="M568.6,952.9C570.6,952.0 576.6,949.5 581.0,947.9C585.4,946.2 590.3,944.4 594.9,942.9C599.6,941.4 604.3,939.8 608.9,938.9C613.6,937.9 618.3,937.4 622.9,937.3C627.6,937.1 631.9,937.3 636.9,937.9C641.9,938.5 647.6,939.5 652.9,940.9C658.2,942.2 663.6,944.0 668.9,945.9C674.2,947.7 679.6,949.9 684.9,951.9C690.2,953.9 695.6,955.9 700.9,957.9C706.2,959.8 711.6,961.6 716.9,963.5C722.2,965.4 727.5,967.2 732.9,969.3C738.2,971.3 743.9,973.6 748.9,975.9C753.9,978.1 758.5,980.4 762.9,982.9C767.2,985.4 771.2,988.0 774.9,990.9C778.5,993.7 782.2,996.7 784.8,999.8C787.5,1003.0 789.5,1006.7 790.8,1009.8C792.2,1013.0 793.0,1016.0 792.8,1018.8C792.7,1021.7 791.5,1024.5 789.8,1026.8C788.2,1029.2 785.3,1031.3 782.8,1032.8C780.3,1034.4 776.2,1035.7 774.9,1036.2L714.9,1036.4C712.2,1035.8 704.2,1034.4 698.9,1032.8C693.6,1031.2 688.2,1029.0 682.9,1026.8C677.6,1024.7 672.2,1022.2 666.9,1019.8C661.6,1017.5 656.2,1015.0 650.9,1012.8C645.6,1010.7 640.9,1008.8 634.9,1006.8C628.9,1004.8 621.6,1002.7 614.9,1000.8C608.3,999.0 600.9,997.5 594.9,995.9C588.9,994.2 583.3,992.4 579.0,990.9C574.6,989.4 570.6,987.5 569.0,986.9Z" fill="none" stroke="#000" stroke-opacity="0.5" stroke-width="3" stroke-linejoin="round"/>
<path d="M588.0,972.5C588.3,971.0 589.1,968.6 590.9,967.3C592.8,965.9 595.9,965.1 598.9,964.5C601.9,963.8 605.6,963.3 608.9,963.3C612.3,963.3 615.6,963.8 618.9,964.5C622.3,965.1 625.9,966.1 628.9,967.3C631.9,968.4 634.9,969.8 636.9,971.3C639.0,972.7 640.7,974.3 641.3,975.9C642.0,977.4 641.8,979.1 640.9,980.5C640.0,981.8 638.3,983.0 635.9,983.9C633.6,984.8 630.4,985.5 626.9,985.9C623.4,986.2 618.9,986.2 614.9,985.9C610.9,985.5 606.4,984.9 602.9,983.9C599.4,982.9 596.3,981.2 593.9,979.9C591.6,978.5 589.9,977.1 588.9,975.9C588.0,974.6 587.6,973.9 588.0,972.5Z" fill="none" stroke="#000" stroke-opacity="0.5" stroke-width="3" stroke-linejoin="round"/>
<path d="M686.9,1000.8C686.9,999.0 687.9,997.0 689.9,995.9C691.9,994.7 695.4,994.3 698.9,993.9C702.4,993.4 706.9,993.2 710.9,993.3C714.9,993.4 718.9,993.8 722.9,994.5C726.9,995.1 730.9,996.0 734.9,997.2C738.9,998.5 743.4,1000.2 746.9,1001.8C750.4,1003.5 753.5,1005.2 755.9,1007.2C758.2,1009.2 760.2,1011.7 760.9,1013.8C761.5,1015.9 761.0,1018.2 759.9,1019.8C758.7,1021.5 756.5,1022.8 753.9,1023.8C751.2,1024.8 747.4,1025.7 743.9,1025.8C740.4,1026.0 736.7,1025.5 732.9,1024.8C729.0,1024.2 724.9,1023.0 720.9,1021.8C716.9,1020.7 712.7,1019.4 708.9,1017.8C705.1,1016.3 701.1,1014.3 697.9,1012.4C694.7,1010.6 691.7,1008.8 689.9,1006.8C688.1,1004.9 686.9,1002.7 686.9,1000.8Z" fill="none" stroke="#000" stroke-opacity="0.5" stroke-width="3" stroke-linejoin="round"/>
</g></g>
<rect x="532" y="752" width="300" height="300" fill="none" stroke="#000" stroke-width="2"/>
<g><clipPath id="c22"><rect x="868" y="752" width="300" height="300"/></clipPath>
<g clip-path="url(#c22)">
<path d="M868.0,1052L868.0,1005.8L908.0,1005.8L908.0,773.4L947.9,773.4L947.9,844.9L988.3,844.9L988.3,966.5L1028.5,966.5L1028.5,1030.4L1068.5,1030.4L1068.5,1038.8L1108.5,1038.8L1108.5,1045.8L1148.4,1045.8L1148.4,1052Z" fill="#e7e7e7"/>
<path d="M908.0,1005.8L908.0,773.4L947.9,773.4L947.9,844.9L988.3,844.9L988.3,966.5L1028.5,966.5L1028.5,1030.4L1068.5,1030.4L1068.5,1038.8L1108.5,1038.8L1108.5,1045.8L1148.4,1045.8" fill="none" stroke="#858585" stroke-width="3" stroke-linejoin="miter"/>
<line x1="917.6" y1="755" x2="917.6" y2="1052" stroke="#757575" stroke-width="3" stroke-dasharray="9 9"/>
<line x1="948.5" y1="755" x2="948.5" y2="1052" stroke="#757575" stroke-width="3" stroke-dasharray="9 9"/>
<line x1="993.9" y1="755" x2="993.9" y2="1052" stroke="#757575" stroke-width="3" stroke-dasharray="9 9"/>
<path d="M899.6,929.3C900.1,925.6 901.7,915.3 903.0,906.9C904.2,898.5 905.6,887.9 907.0,878.9C908.3,869.9 909.6,860.9 911.0,852.9C912.3,844.9 913.6,837.6 915.0,830.9C916.3,824.3 917.6,818.3 919.0,812.9C920.3,807.6 921.6,803.3 923.0,799.0C924.3,794.6 925.6,790.5 926.9,787.0C928.3,783.5 929.6,780.6 930.9,778.0C932.3,775.3 933.6,772.7 934.9,771.0C936.3,769.2 937.6,768.1 938.9,767.4C940.3,766.6 941.6,766.2 942.9,766.4C944.3,766.6 945.6,767.1 946.9,768.6C948.3,770.0 949.6,772.1 950.9,775.0C952.3,777.9 953.6,781.8 954.9,786.0C956.3,790.1 957.6,794.8 958.9,800.0C960.3,805.1 961.6,810.8 962.9,816.9C964.3,823.1 965.6,830.3 966.9,836.9C968.3,843.6 969.6,850.6 970.9,856.9C972.3,863.3 973.6,869.3 974.9,874.9C976.3,880.6 977.6,885.7 978.9,890.9C980.3,896.1 981.6,901.2 982.9,905.9C984.3,910.6 985.6,914.7 986.9,918.9C988.2,923.1 989.2,926.2 990.9,930.9C992.6,935.5 994.9,941.9 996.9,946.9C998.9,951.9 1000.6,955.9 1002.9,960.9C1005.2,965.9 1007.9,971.2 1010.9,976.9C1013.9,982.5 1017.6,989.5 1020.9,994.9C1024.2,1000.2 1027.6,1004.2 1030.9,1008.8C1034.2,1013.5 1037.9,1019.0 1040.9,1022.8C1043.9,1026.7 1046.6,1029.7 1048.9,1031.8C1051.2,1034.0 1052.5,1034.9 1054.9,1035.8C1057.2,1036.8 1059.5,1037.5 1062.9,1037.6C1066.2,1037.8 1070.9,1037.1 1074.9,1036.8C1078.9,1036.6 1082.9,1035.9 1086.9,1036.0C1090.9,1036.2 1094.9,1037.0 1098.9,1037.8C1102.9,1038.7 1106.7,1040.0 1110.9,1041.2C1115.0,1042.5 1121.7,1044.6 1123.8,1045.2" fill="none" stroke="#000" stroke-width="3" stroke-linejoin="round"/>
</g></g>
<rect x="868" y="752" width="300" height="300" fill="none" stroke="#000" stroke-width="2"/>
<g><clipPath id="c30"><rect x="196" y="1088" width="300" height="300"/></clipPath>
<g clip-path="url(#c30)">
<polygon points="372.2,1171.6 389.6,1178.5 389.6,1192.5 372.2,1199.5 354.9,1192.5 354.9,1178.5" fill="#f6f6f6"/>
<polygon points="406.9,1171.6 424.3,1178.5 424.3,1192.5 406.9,1199.5 389.6,1192.5 389.6,1178.5" fill="#f6f6f6"/>
<polygon points="285.5,1192.5 302.8,1199.5 302.8,1213.4 285.5,1220.4 268.1,1213.4 268.1,1199.5" fill="#f6f6f6"/>
<polygon points="320.2,1192.5 337.5,1199.5 337.5,1213.4 320.2,1220.4 302.8,1213.4 302.8,1199.5" fill="#f0f0f0"/>
<polygon points="354.9,1192.5 372.2,1199.5 372.2,1213.4 354.9,1220.4 337.5,1213.4 337.5,1199.5" fill="#f6f6f6"/>
<polygon points="302.8,1213.4 320.2,1220.4 320.2,1234.4 302.8,1241.4 285.5,1234.4 285.5,1220.4" fill="#f6f6f6"/>
<polygon points="337.5,1213.4 354.9,1220.4 354.9,1234.4 337.5,1241.4 320.2,1234.4 320.2,1220.4" fill="#dcdcdc"/>
<polygon points="372.2,1213.4 389.6,1220.4 389.6,1234.4 372.2,1241.4 354.9,1234.4 354.9,1220.4" fill="#d8d8d8"/>
<polygon points="406.9,1213.4 424.3,1220.4 424.3,1234.4 406.9,1241.4 389.6,1234.4 389.6,1220.4" fill="#dcdcdc"/>
<polygon points="320.2,1234.4 337.5,1241.4 337.5,1255.3 320.2,1262.3 302.8,1255.3 302.8,1241.4" fill="#c4c4c4"/>
<polygon points="354.9,1234.4 372.2,1241.4 372.2,1255.3 354.9,1262.3 337.5,1255.3 337.5,1241.4" fill="#c0c0c0"/>
<polygon points="389.6,1234.4 406.9,1241.4 406.9,1255.3 389.6,1262.3 372.2,1255.3 372.2,1241.4" fill="#ececec"/>
<polygon points="302.8,1255.3 320.2,1262.3 320.2,1276.3 302.8,1283.2 285.5,1276.3 285.5,1262.3" fill="#b4b4b4"/>
<polygon points="337.5,1255.3 354.9,1262.3 354.9,1276.3 337.5,1283.2 320.2,1276.3 320.2,1262.3" fill="#8c8c8c"/>
<polygon points="372.2,1255.3 389.6,1262.3 389.6,1276.3 372.2,1283.2 354.9,1276.3 354.9,1262.3" fill="#c0c0c0"/>
<polygon points="406.9,1255.3 424.3,1262.3 424.3,1276.3 406.9,1283.2 389.6,1276.3 389.6,1262.3" fill="#f0f0f0"/>
<polygon points="441.6,1255.3 459.0,1262.3 459.0,1276.3 441.6,1283.2 424.3,1276.3 424.3,1262.3" fill="#f6f6f6"/>
<polygon points="320.2,1276.3 337.5,1283.2 337.5,1297.2 320.2,1304.2 302.8,1297.2 302.8,1283.2" fill="#b8b8b8"/>
<polygon points="354.9,1276.3 372.2,1283.2 372.2,1297.2 354.9,1304.2 337.5,1297.2 337.5,1283.2" fill="#909090"/>
<polygon points="389.6,1276.3 406.9,1283.2 406.9,1297.2 389.6,1304.2 372.2,1297.2 372.2,1283.2" fill="#909090"/>
<polygon points="424.3,1276.3 441.6,1283.2 441.6,1297.2 424.3,1304.2 406.9,1297.2 406.9,1283.2" fill="#d8d8d8"/>
<polygon points="268.1,1297.2 285.5,1304.2 285.5,1318.1 268.1,1325.1 250.8,1318.1 250.8,1304.2" fill="#f6f6f6"/>
<polygon points="302.8,1297.2 320.2,1304.2 320.2,1318.1 302.8,1325.1 285.5,1318.1 285.5,1304.2" fill="#d8d8d8"/>
<polygon points="337.5,1297.2 354.9,1304.2 354.9,1318.1 337.5,1325.1 320.2,1318.1 320.2,1304.2" fill="#6e6e6e"/>
<polygon points="372.2,1297.2 389.6,1304.2 389.6,1318.1 372.2,1325.1 354.9,1318.1 354.9,1304.2" fill="#8c8c8c"/>
<polygon points="406.9,1297.2 424.3,1304.2 424.3,1318.1 406.9,1325.1 389.6,1318.1 389.6,1304.2" fill="#969696"/>
<polygon points="441.6,1297.2 459.0,1304.2 459.0,1318.1 441.6,1325.1 424.3,1318.1 424.3,1304.2" fill="#f6f6f6"/>
<polygon points="250.8,1318.1 268.1,1325.1 268.1,1339.1 250.8,1346.1 233.4,1339.1 233.4,1325.1" fill="#e8e8e8"/>
<polygon points="285.5,1318.1 302.8,1325.1 302.8,1339.1 285.5,1346.1 268.1,1339.1 268.1,1325.1" fill="#c0c0c0"/>
<polygon points="320.2,1318.1 337.5,1325.1 337.5,1339.1 320.2,1346.1 302.8,1339.1 302.8,1325.1" fill="#646464"/>
<polygon points="354.9,1318.1 372.2,1325.1 372.2,1339.1 354.9,1346.1 337.5,1339.1 337.5,1325.1" fill="#333333"/>
<polygon points="389.6,1318.1 406.9,1325.1 406.9,1339.1 389.6,1346.1 372.2,1339.1 372.2,1325.1" fill="#c4c4c4"/>
<polygon points="424.3,1318.1 441.6,1325.1 441.6,1339.1 424.3,1346.1 406.9,1339.1 406.9,1325.1" fill="#ececec"/>
<polygon points="459.0,1318.1 476.4,1325.1 476.4,1339.1 459.0,1346.1 441.6,1339.1 441.6,1325.1" fill="#f6f6f6"/>
<polygon points="268.1,1339.1 285.5,1346.1 285.5,1360.0 268.1,1367.0 250.8,1360.0 250.8,1346.1" fill="#eeeeee"/>
<polygon points="302.8,1339.1 320.2,1346.1 320.2,1360.0 302.8,1367.0 285.5,1360.0 285.5,1346.1" fill="#808080"/>
<polygon points="337.5,1339.1 354.9,1346.1 354.9,1360.0 337.5,1367.0 320.2,1360.0 320.2,1346.1" fill="#4a4a4a"/>
<polygon points="372.2,1339.1 389.6,1346.1 389.6,1360.0 372.2,1367.0 354.9,1360.0 354.9,1346.1" fill="#666666"/>
<polygon points="406.9,1339.1 424.3,1346.1 424.3,1360.0 406.9,1367.0 389.6,1360.0 389.6,1346.1" fill="#c0c0c0"/>
<polygon points="250.8,1360.0 268.1,1367.0 268.1,1381.0 250.8,1387.9 233.4,1381.0 233.4,1367.0" fill="#ececec"/>
<polygon points="320.2,1360.0 337.5,1367.0 337.5,1381.0 320.2,1387.9 302.8,1381.0 302.8,1367.0" fill="#c8c8c8"/>
<polygon points="354.9,1360.0 372.2,1367.0 372.2,1381.0 354.9,1387.9 337.5,1381.0 337.5,1367.0" fill="#b0b0b0"/>
<polygon points="389.6,1360.0 406.9,1367.0 406.9,1381.0 389.6,1387.9 372.2,1381.0 372.2,1367.0" fill="#e0e0e0"/>
<polygon points="424.3,1360.0 441.6,1367.0 441.6,1381.0 424.3,1387.9 406.9,1381.0 406.9,1367.0" fill="#e4e4e4"/>
<path d="M381.5,1102.0h0M333.3,1152.3h0M328.7,1169.9h0M325.5,1188.9h0M322.3,1195.3h0M276.5,1203.3h0M297.9,1204.9h0M332.9,1206.3h0M315.5,1216.5h0M364.3,1193.3h0M371.5,1186.3h0M366.3,1203.9h0M389.3,1193.7h0M398.9,1187.9h0M418.7,1182.7h0M399.5,1218.3h0M418.3,1225.9h0M416.5,1234.9h0M425.3,1239.7h0M437.3,1236.9h0M300.9,1232.9h0M287.1,1237.3h0M262.1,1242.3h0M216.0,1250.5h0M424.9,1267.3h0M436.1,1268.7h0M459.2,1284.5h0M440.4,1295.3h0M442.0,1298.9h0M268.5,1311.3h0M474.2,1319.3h0M442.8,1325.5h0M475.8,1329.5h0M245.4,1336.8h0M252.4,1334.8h0M217.6,1348.6h0M458.2,1360.6h0M261.7,1365.2h0M258.9,1368.8h0M244.0,1367.6h0" stroke="#000" stroke-opacity="0.45" stroke-width="1.6" stroke-linecap="round" fill="none"/>
<path d="M282.9,1374.4C281.9,1373.7 279.1,1371.9 276.9,1369.8C274.8,1367.7 272.4,1364.7 269.9,1361.8C267.4,1359.0 264.3,1356.0 261.9,1352.8C259.6,1349.7 256.9,1345.8 255.9,1342.8C254.9,1339.8 255.1,1337.3 255.9,1334.8C256.8,1332.3 258.4,1330.4 260.9,1327.9C263.4,1325.4 267.6,1322.4 270.9,1319.9C274.3,1317.4 278.3,1315.7 280.9,1312.9C283.6,1310.0 285.7,1306.9 286.9,1302.9C288.2,1298.9 288.1,1293.5 288.5,1288.9C288.9,1284.2 288.7,1279.2 289.3,1274.9C290.0,1270.5 291.1,1266.9 292.5,1262.9C294.0,1258.9 296.2,1254.9 297.9,1250.9C299.7,1246.9 301.1,1242.9 302.9,1238.9C304.8,1234.9 306.6,1230.2 308.9,1226.9C311.3,1223.6 314.3,1221.2 316.9,1218.9C319.6,1216.6 321.9,1214.6 324.9,1212.9C327.9,1211.2 330.9,1209.6 334.9,1208.9C338.9,1208.2 343.9,1208.8 348.9,1208.9C353.9,1209.0 360.6,1208.5 364.9,1209.3C369.2,1210.1 371.6,1212.3 374.9,1213.9C378.2,1215.5 381.2,1217.4 384.9,1218.9C388.5,1220.4 393.4,1221.6 396.9,1222.9C400.4,1224.2 403.6,1225.2 405.9,1226.9C408.1,1228.6 410.0,1230.9 410.5,1232.9C411.0,1234.9 409.6,1236.7 408.9,1238.9C408.1,1241.1 406.4,1243.6 405.9,1245.9C405.4,1248.2 405.2,1250.6 405.9,1252.9C406.5,1255.2 408.0,1257.4 409.9,1259.9C411.7,1262.4 414.4,1265.1 416.9,1267.9C419.4,1270.7 422.4,1273.9 424.9,1276.9C427.4,1279.9 429.9,1282.9 431.9,1285.9C433.9,1288.9 435.7,1291.7 436.9,1294.9C438.0,1298.0 438.9,1301.5 438.9,1304.9C438.9,1308.2 438.0,1311.5 436.9,1314.9C435.7,1318.2 433.5,1321.5 431.9,1324.9C430.2,1328.2 428.0,1331.5 426.9,1334.8C425.7,1338.2 425.0,1341.2 424.9,1344.8C424.7,1348.5 426.0,1353.2 425.9,1356.8C425.7,1360.5 424.9,1364.0 423.9,1366.8C422.9,1369.7 420.5,1372.7 419.9,1373.8Z" fill="none" stroke="#000" stroke-opacity="0.5" stroke-width="3" stroke-linejoin="round"/>
<path d="M326.9,1374.4C325.2,1374.2 320.6,1373.4 316.9,1372.8C313.3,1372.2 308.9,1371.8 304.9,1370.8C300.9,1369.8 296.4,1368.8 292.9,1366.8C289.4,1364.8 286.3,1361.8 283.9,1358.8C281.6,1355.8 279.6,1352.2 278.9,1348.8C278.3,1345.5 278.9,1342.2 279.9,1338.8C280.9,1335.5 282.9,1332.2 284.9,1328.9C286.9,1325.5 290.1,1322.5 291.9,1318.9C293.8,1315.2 295.2,1310.9 295.9,1306.9C296.7,1302.9 296.7,1298.9 296.5,1294.9C296.4,1290.9 294.9,1286.9 294.9,1282.9C295.0,1278.9 295.8,1274.9 296.9,1270.9C298.1,1266.9 299.9,1262.9 301.9,1258.9C303.9,1254.9 306.4,1250.6 308.9,1246.9C311.4,1243.2 313.9,1239.9 316.9,1236.9C319.9,1233.9 323.6,1231.1 326.9,1228.9C330.2,1226.7 333.9,1224.9 336.9,1223.9C339.9,1222.9 341.6,1222.6 344.9,1222.9C348.2,1223.2 353.2,1224.9 356.9,1225.9C360.6,1226.9 363.6,1227.4 366.9,1228.9C370.2,1230.4 374.1,1232.6 376.9,1234.9C379.7,1237.2 381.7,1239.9 383.9,1242.9C386.0,1245.9 387.5,1249.9 389.9,1252.9C392.2,1255.9 395.0,1258.2 397.9,1260.9C400.7,1263.6 403.9,1266.2 406.9,1268.9C409.9,1271.5 413.2,1273.9 415.9,1276.9C418.5,1279.9 421.0,1283.5 422.9,1286.9C424.7,1290.2 426.0,1293.5 426.9,1296.9C427.7,1300.2 428.2,1303.5 427.9,1306.9C427.5,1310.2 426.4,1313.5 424.9,1316.9C423.4,1320.2 420.5,1323.5 418.9,1326.9C417.2,1330.2 415.4,1333.5 414.9,1336.8C414.4,1340.2 415.5,1343.5 415.9,1346.8C416.2,1350.2 417.2,1353.7 416.9,1356.8C416.5,1360.0 415.9,1363.5 413.9,1365.8C411.9,1368.2 408.0,1369.4 404.9,1370.8C401.7,1372.3 396.5,1373.8 394.9,1374.4Z" fill="none" stroke="#000" stroke-opacity="0.5" stroke-width="3" stroke-linejoin="round"/>
<path d="M338.9,1374.4C337.2,1374.2 331.9,1374.2 328.9,1373.2C325.9,1372.3 323.6,1370.6 320.9,1368.8C318.2,1367.1 315.9,1364.3 312.9,1362.8C309.9,1361.3 305.6,1361.2 302.9,1359.8C300.3,1358.5 298.4,1357.0 296.9,1354.8C295.4,1352.7 293.9,1349.5 293.9,1346.8C293.9,1344.2 295.3,1341.8 296.9,1338.8C298.6,1335.8 301.6,1332.2 303.9,1328.9C306.3,1325.5 309.2,1322.2 310.9,1318.9C312.7,1315.5 314.0,1312.2 314.5,1308.9C315.0,1305.5 314.5,1302.2 313.9,1298.9C313.4,1295.5 311.9,1292.2 311.3,1288.9C310.8,1285.5 310.1,1282.2 310.5,1278.9C311.0,1275.5 312.4,1272.0 313.9,1268.9C315.5,1265.7 317.7,1262.5 319.9,1259.9C322.1,1257.3 324.4,1254.9 326.9,1253.3C329.4,1251.7 332.2,1250.4 334.9,1250.5C337.6,1250.6 340.4,1252.3 342.9,1253.9C345.4,1255.5 347.6,1257.9 349.9,1259.9C352.2,1261.9 354.4,1264.4 356.9,1265.9C359.4,1267.4 362.1,1268.5 364.9,1268.9C367.7,1269.3 370.9,1268.2 373.9,1268.5C376.9,1268.8 379.9,1269.3 382.9,1270.9C385.9,1272.4 389.0,1275.2 391.9,1277.9C394.7,1280.5 397.4,1283.9 399.9,1286.9C402.4,1289.9 405.1,1293.0 406.9,1295.9C408.6,1298.7 410.3,1301.4 410.5,1303.9C410.6,1306.4 409.5,1308.7 407.9,1310.9C406.3,1313.0 402.9,1314.5 400.9,1316.9C398.9,1319.2 396.7,1321.9 395.9,1324.9C395.0,1327.9 395.5,1331.5 395.9,1334.8C396.2,1338.2 397.7,1341.5 397.9,1344.8C398.0,1348.2 397.9,1351.7 396.9,1354.8C395.9,1358.0 394.2,1361.3 391.9,1363.8C389.5,1366.3 386.0,1368.3 382.9,1369.8C379.7,1371.4 376.9,1372.5 372.9,1373.2C368.9,1374.0 361.2,1374.2 358.9,1374.4Z" fill="none" stroke="#000" stroke-opacity="0.5" stroke-width="3" stroke-linejoin="round"/>
<path d="M340.9,1306.9C343.1,1306.9 346.2,1307.7 348.9,1308.9C351.6,1310.0 354.2,1312.0 356.9,1313.9C359.6,1315.7 362.7,1317.4 364.9,1319.9C367.1,1322.4 369.2,1325.7 369.9,1328.9C370.6,1332.0 369.7,1335.8 368.9,1338.8C368.1,1341.8 366.9,1344.8 364.9,1346.8C362.9,1348.8 359.9,1349.8 356.9,1350.8C353.9,1351.8 350.1,1352.8 346.9,1352.8C343.7,1352.8 340.6,1352.2 337.9,1350.8C335.2,1349.5 332.6,1347.5 330.9,1344.8C329.2,1342.2 328.2,1338.2 327.9,1334.8C327.6,1331.5 328.2,1328.2 328.9,1324.9C329.6,1321.5 330.7,1317.5 331.9,1314.9C333.1,1312.2 334.4,1310.2 335.9,1308.9C337.4,1307.5 338.7,1306.9 340.9,1306.9Z" fill="none" stroke="#000" stroke-opacity="0.5" stroke-width="3" stroke-linejoin="round"/>
</g></g>
<rect x="196" y="1088" width="300" height="300" fill="none" stroke="#000" stroke-width="2"/>
<g><clipPath id="c31"><rect x="532" y="1088" width="300" height="300"/></clipPath>
<g clip-path="url(#c31)">
<polygon points="730.5,1171.6 762.7,1178.5 762.7,1192.5 730.5,1199.5 698.3,1192.5 698.3,1178.5" fill="#dcdcdc"/>
<polygon points="569.6,1192.5 601.7,1199.5 601.7,1213.4 569.6,1220.4 537.4,1213.4 537.4,1199.5" fill="#f2f2f2"/>
<polygon points="698.3,1192.5 730.5,1199.5 730.5,1213.4 698.3,1220.4 666.1,1213.4 666.1,1199.5" fill="#f2f2f2"/>
<polygon points="601.7,1213.4 633.9,1220.4 633.9,1234.4 601.7,1241.4 569.6,1234.4 569.6,1220.4" fill="#f8f8f8"/>
<polygon points="666.1,1213.4 698.3,1220.4 698.3,1234.4 666.1,1241.4 633.9,1234.4 633.9,1220.4" fill="#d4d4d4"/>
<polygon points="730.5,1213.4 762.7,1220.4 762.7,1234.4 730.5,1241.4 698.3,1234.4 698.3,1220.4" fill="#dcdcdc"/>
<polygon points="794.8,1213.4 827.0,1220.4 827.0,1234.4 794.8,1241.4 762.7,1234.4 762.7,1220.4" fill="#f8f8f8"/>
<polygon points="569.6,1234.4 601.7,1241.4 601.7,1255.3 569.6,1262.3 537.4,1255.3 537.4,1241.4" fill="#f0f0f0"/>
<polygon points="633.9,1234.4 666.1,1241.4 666.1,1255.3 633.9,1262.3 601.7,1255.3 601.7,1241.4" fill="#ececec"/>
<polygon points="698.3,1234.4 730.5,1241.4 730.5,1255.3 698.3,1262.3 666.1,1255.3 666.1,1241.4" fill="#c8c8c8"/>
<polygon points="762.7,1234.4 794.8,1241.4 794.8,1255.3 762.7,1262.3 730.5,1255.3 730.5,1241.4" fill="#c0c0c0"/>
<polygon points="601.7,1255.3 633.9,1262.3 633.9,1276.3 601.7,1283.2 569.6,1276.3 569.6,1262.3" fill="#e8e8e8"/>
<polygon points="666.1,1255.3 698.3,1262.3 698.3,1276.3 666.1,1283.2 633.9,1276.3 633.9,1262.3" fill="#c4c4c4"/>
<polygon points="730.5,1255.3 762.7,1262.3 762.7,1276.3 730.5,1283.2 698.3,1276.3 698.3,1262.3" fill="#949494"/>
<polygon points="794.8,1255.3 827.0,1262.3 827.0,1276.3 794.8,1283.2 762.7,1276.3 762.7,1262.3" fill="#d8d8d8"/>
<polygon points="569.6,1276.3 601.7,1283.2 601.7,1297.2 569.6,1304.2 537.4,1297.2 537.4,1283.2" fill="#f8f8f8"/>
<polygon points="633.9,1276.3 666.1,1283.2 666.1,1297.2 633.9,1304.2 601.7,1297.2 601.7,1283.2" fill="#a0a0a0"/>
<polygon points="698.3,1276.3 730.5,1283.2 730.5,1297.2 698.3,1304.2 666.1,1297.2 666.1,1283.2" fill="#b8b8b8"/>
<polygon points="762.7,1276.3 794.8,1283.2 794.8,1297.2 762.7,1304.2 730.5,1297.2 730.5,1283.2" fill="#707070"/>
<polygon points="601.7,1297.2 633.9,1304.2 633.9,1318.1 601.7,1325.1 569.6,1318.1 569.6,1304.2" fill="#969696"/>
<polygon points="666.1,1297.2 698.3,1304.2 698.3,1318.1 666.1,1325.1 633.9,1318.1 633.9,1304.2" fill="#b0b0b0"/>
<polygon points="730.5,1297.2 762.7,1304.2 762.7,1318.1 730.5,1325.1 698.3,1318.1 698.3,1304.2" fill="#8c8c8c"/>
<polygon points="794.8,1297.2 827.0,1304.2 827.0,1318.1 794.8,1325.1 762.7,1318.1 762.7,1304.2" fill="#d0d0d0"/>
<polygon points="569.6,1318.1 601.7,1325.1 601.7,1339.1 569.6,1346.1 537.4,1339.1 537.4,1325.1" fill="#b4b4b4"/>
<polygon points="633.9,1318.1 666.1,1325.1 666.1,1339.1 633.9,1346.1 601.7,1339.1 601.7,1325.1" fill="#858585"/>
<polygon points="698.3,1318.1 730.5,1325.1 730.5,1339.1 698.3,1346.1 666.1,1339.1 666.1,1325.1" fill="#7c7c7c"/>
<polygon points="762.7,1318.1 794.8,1325.1 794.8,1339.1 762.7,1346.1 730.5,1339.1 730.5,1325.1" fill="#a0a0a0"/>
<polygon points="601.7,1339.1 633.9,1346.1 633.9,1360.0 601.7,1367.0 569.6,1360.0 569.6,1346.1" fill="#333333"/>
<polygon points="666.1,1339.1 698.3,1346.1 698.3,1360.0 666.1,1367.0 633.9,1360.0 633.9,1346.1" fill="#a8a8a8"/>
<polygon points="730.5,1339.1 762.7,1346.1 762.7,1360.0 730.5,1367.0 698.3,1360.0 698.3,1346.1" fill="#949494"/>
<polygon points="794.8,1339.1 827.0,1346.1 827.0,1360.0 794.8,1367.0 762.7,1360.0 762.7,1346.1" fill="#c4c4c4"/>
<polygon points="569.6,1360.0 601.7,1367.0 601.7,1381.0 569.6,1387.9 537.4,1381.0 537.4,1367.0" fill="#a0a0a0"/>
<polygon points="633.9,1360.0 666.1,1367.0 666.1,1381.0 633.9,1387.9 601.7,1381.0 601.7,1367.0" fill="#e0e0e0"/>
<polygon points="698.3,1360.0 730.5,1367.0 730.5,1381.0 698.3,1387.9 666.1,1381.0 666.1,1367.0" fill="#dcdcdc"/>
<polygon points="762.7,1360.0 794.8,1367.0 794.8,1381.0 762.7,1387.9 730.5,1381.0 730.5,1367.0" fill="#e8e8e8"/>
<path d="M700.3,1102.0h0M705.5,1152.3h0M772.9,1169.9h0M620.1,1187.9h0M720.5,1186.3h0M747.7,1182.7h0M744.1,1188.9h0M754.3,1193.3h0M732.9,1193.7h0M730.5,1195.7h0M590.3,1203.9h0M597.9,1205.1h0M694.5,1206.5h0M768.9,1203.5h0M576.6,1217.7h0M613.5,1218.1h0M673.5,1212.3h0M696.5,1216.5h0M580.6,1225.5h0M695.5,1224.3h0M724.5,1224.5h0M768.1,1225.1h0M782.8,1225.7h0M667.9,1232.5h0M679.5,1230.7h0M654.3,1235.3h0M627.9,1236.9h0M777.2,1237.7h0M583.0,1244.3h0M586.6,1243.5h0M646.5,1247.3h0M572.2,1255.5h0M612.5,1255.9h0M592.1,1278.5h0M577.2,1286.3h0" stroke="#000" stroke-opacity="0.45" stroke-width="1.6" stroke-linecap="round" fill="none"/>
<path d="M568.6,1295.3C570.0,1294.2 573.6,1291.3 577.0,1288.9C580.4,1286.5 584.6,1283.5 588.9,1280.9C593.3,1278.2 597.9,1275.5 602.9,1272.9C607.9,1270.2 613.6,1267.2 618.9,1264.9C624.3,1262.6 629.9,1260.9 634.9,1258.9C639.9,1256.9 644.9,1254.9 648.9,1252.9C652.9,1250.9 655.9,1249.2 658.9,1246.9C661.9,1244.6 664.2,1241.4 666.9,1238.9C669.6,1236.4 671.9,1233.8 674.9,1231.9C677.9,1230.0 681.2,1228.5 684.9,1227.3C688.6,1226.1 692.6,1225.4 696.9,1224.9C701.2,1224.4 706.2,1224.2 710.9,1224.1C715.5,1224.0 720.2,1224.1 724.9,1224.5C729.5,1224.9 734.2,1225.6 738.9,1226.5C743.5,1227.4 748.2,1228.5 752.9,1229.9C757.5,1231.3 762.5,1232.9 766.9,1234.9C771.2,1236.9 775.2,1239.2 778.8,1241.9C782.5,1244.6 786.2,1248.4 788.8,1250.9C791.5,1253.4 793.8,1255.9 794.8,1256.9L795.4,1356.8C793.0,1358.0 785.9,1361.9 780.8,1363.8C775.8,1365.8 770.9,1367.1 764.9,1368.4C758.9,1369.8 751.5,1370.9 744.9,1371.8C738.2,1372.7 733.2,1373.3 724.9,1373.8C716.5,1374.3 699.9,1374.7 694.9,1374.8L568.6,1375.2Z" fill="none" stroke="#000" stroke-opacity="0.5" stroke-width="3" stroke-linejoin="round"/>
<path d="M568.6,1309.9C570.0,1308.8 573.2,1305.9 577.0,1303.3C580.7,1300.6 586.0,1296.9 590.9,1293.9C595.9,1290.8 601.6,1287.5 606.9,1284.9C612.3,1282.2 617.6,1280.2 622.9,1277.9C628.3,1275.5 633.6,1273.0 638.9,1270.9C644.3,1268.7 649.6,1266.9 654.9,1264.9C660.2,1262.9 666.2,1260.9 670.9,1258.9C675.6,1256.9 678.9,1255.1 682.9,1252.9C686.9,1250.7 690.9,1248.0 694.9,1245.9C698.9,1243.8 702.6,1241.7 706.9,1240.5C711.2,1239.3 716.2,1238.7 720.9,1238.5C725.5,1238.3 730.2,1238.6 734.9,1239.3C739.5,1240.0 744.2,1241.3 748.9,1242.9C753.5,1244.5 758.5,1246.6 762.9,1248.9C767.2,1251.2 770.9,1253.9 774.9,1256.9C778.8,1259.9 783.5,1263.7 786.8,1266.9C790.2,1270.0 793.5,1274.4 794.8,1275.9L795.2,1334.8C794.5,1336.2 793.2,1340.2 790.8,1342.8C788.4,1345.5 785.2,1348.5 780.8,1350.8C776.5,1353.2 770.9,1355.3 764.9,1356.8C758.9,1358.3 751.5,1359.2 744.9,1359.8C738.2,1360.4 731.5,1360.4 724.9,1360.4C718.2,1360.4 711.6,1359.8 704.9,1359.8C698.2,1359.8 691.6,1360.0 684.9,1360.4C678.2,1360.9 671.6,1361.5 664.9,1362.4C658.2,1363.3 651.6,1364.6 644.9,1365.8C638.3,1367.1 631.6,1368.7 624.9,1369.8C618.3,1370.9 611.6,1371.9 604.9,1372.4C598.3,1373.0 590.9,1373.2 585.0,1373.2C579.0,1373.3 571.6,1372.9 569.0,1372.8Z" fill="none" stroke="#000" stroke-opacity="0.5" stroke-width="3" stroke-linejoin="round"/>
<path d="M568.6,1331.9C570.3,1330.0 575.2,1324.4 579.0,1320.9C582.7,1317.4 586.6,1313.9 590.9,1310.9C595.3,1307.9 599.9,1305.4 604.9,1302.9C609.9,1300.4 615.6,1298.0 620.9,1295.9C626.3,1293.7 631.6,1291.6 636.9,1289.9C642.3,1288.1 647.9,1286.6 652.9,1285.3C657.9,1283.9 662.2,1283.1 666.9,1281.9C671.6,1280.6 676.2,1279.4 680.9,1277.9C685.6,1276.4 690.2,1274.5 694.9,1272.9C699.6,1271.2 704.6,1269.2 708.9,1267.9C713.2,1266.6 716.9,1265.8 720.9,1265.3C724.9,1264.8 728.9,1264.6 732.9,1264.9C736.9,1265.2 740.9,1265.7 744.9,1266.9C748.9,1268.1 752.9,1269.9 756.9,1271.9C760.9,1273.9 765.5,1276.4 768.9,1278.9C772.2,1281.4 774.9,1283.9 776.8,1286.9C778.8,1289.9 780.2,1293.2 780.8,1296.9C781.4,1300.5 780.9,1304.9 780.4,1308.9C779.9,1312.9 779.1,1316.9 777.8,1320.9C776.6,1324.9 775.0,1329.4 772.9,1332.8C770.7,1336.3 768.2,1339.2 764.9,1341.8C761.5,1344.5 757.5,1346.8 752.9,1348.8C748.2,1350.8 742.5,1352.5 736.9,1353.8C731.2,1355.2 725.2,1356.2 718.9,1356.8C712.6,1357.5 705.6,1357.3 698.9,1357.8C692.2,1358.3 685.6,1358.8 678.9,1359.8C672.2,1360.8 665.6,1362.3 658.9,1363.8C652.2,1365.3 645.6,1367.4 638.9,1368.8C632.3,1370.3 625.6,1371.7 618.9,1372.4C612.3,1373.2 605.6,1373.3 598.9,1373.2C592.3,1373.1 584.0,1372.4 579.0,1371.8C574.0,1371.3 570.6,1370.2 569.0,1369.8Z" fill="none" stroke="#000" stroke-opacity="0.5" stroke-width="3" stroke-linejoin="round"/>
<path d="M600.9,1360.8C605.3,1360.4 613.6,1359.2 618.9,1357.8C624.3,1356.4 628.6,1354.1 632.9,1352.4C637.3,1350.8 640.6,1349.3 644.9,1347.8C649.3,1346.4 653.9,1345.0 658.9,1343.8C663.9,1342.7 669.6,1341.7 674.9,1340.8C680.2,1340.0 685.9,1339.6 690.9,1338.8C695.9,1338.1 701.1,1337.5 704.9,1336.4C708.7,1335.4 711.9,1334.0 713.9,1332.4C715.9,1330.9 717.4,1328.9 716.9,1327.3C716.4,1325.7 713.6,1324.0 710.9,1322.9C708.2,1321.7 704.9,1321.0 700.9,1320.5C696.9,1320.0 691.9,1319.9 686.9,1319.9C681.9,1319.9 676.6,1320.1 670.9,1320.5C665.2,1320.8 658.9,1321.2 652.9,1321.9C646.9,1322.5 640.6,1323.5 634.9,1324.5C629.3,1325.5 624.3,1326.3 618.9,1327.9C613.6,1329.4 607.6,1331.5 602.9,1333.8C598.3,1336.2 594.1,1339.5 590.9,1341.8C587.8,1344.2 585.4,1346.0 584.0,1347.8C582.5,1349.7 582.0,1351.2 582.4,1352.8C582.7,1354.5 584.2,1356.6 586.0,1357.8C587.7,1359.1 590.4,1359.9 592.9,1360.4C595.4,1360.9 596.6,1361.3 600.9,1360.8Z" fill="none" stroke="#000" stroke-opacity="0.5" stroke-width="3" stroke-linejoin="round"/>
</g></g>
<rect x="532" y="1088" width="300" height="300" fill="none" stroke="#000" stroke-width="2"/>
<g><clipPath id="c32"><rect x="868" y="1088" width="300" height="300"/></clipPath>
<g clip-path="url(#c32)">
<polygon points="920.2,1171.6 940.5,1178.5 940.5,1192.5 920.2,1199.5 899.8,1192.5 899.8,1178.5" fill="#f2f2f2"/>
<polygon points="1001.7,1171.6 1022.1,1178.5 1022.1,1192.5 1001.7,1199.5 981.3,1192.5 981.3,1178.5" fill="#f8f8f8"/>
<polygon points="940.5,1192.5 960.9,1199.5 960.9,1213.4 940.5,1220.4 920.2,1213.4 920.2,1199.5" fill="#f8f8f8"/>
<polygon points="920.2,1213.4 940.5,1220.4 940.5,1234.4 920.2,1241.4 899.8,1234.4 899.8,1220.4" fill="#d8d8d8"/>
<polygon points="960.9,1213.4 981.3,1220.4 981.3,1234.4 960.9,1241.4 940.5,1234.4 940.5,1220.4" fill="#dcdcdc"/>
<polygon points="1001.7,1213.4 1022.1,1220.4 1022.1,1234.4 1001.7,1241.4 981.3,1234.4 981.3,1220.4" fill="#f4f4f4"/>
<polygon points="899.8,1234.4 920.2,1241.4 920.2,1255.3 899.8,1262.3 879.4,1255.3 879.4,1241.4" fill="#d8d8d8"/>
<polygon points="940.5,1234.4 960.9,1241.4 960.9,1255.3 940.5,1262.3 920.2,1255.3 920.2,1241.4" fill="#a4a4a4"/>
<polygon points="981.3,1234.4 1001.7,1241.4 1001.7,1255.3 981.3,1262.3 960.9,1255.3 960.9,1241.4" fill="#f8f8f8"/>
<polygon points="920.2,1255.3 940.5,1262.3 940.5,1276.3 920.2,1283.2 899.8,1276.3 899.8,1262.3" fill="#969696"/>
<polygon points="960.9,1255.3 981.3,1262.3 981.3,1276.3 960.9,1283.2 940.5,1276.3 940.5,1262.3" fill="#b0b0b0"/>
<polygon points="1001.7,1255.3 1022.1,1262.3 1022.1,1276.3 1001.7,1283.2 981.3,1276.3 981.3,1262.3" fill="#e4e4e4"/>
<polygon points="1083.3,1255.3 1103.7,1262.3 1103.7,1276.3 1083.3,1283.2 1062.9,1276.3 1062.9,1262.3" fill="#f8f8f8"/>
<polygon points="899.8,1276.3 920.2,1283.2 920.2,1297.2 899.8,1304.2 879.4,1297.2 879.4,1283.2" fill="#b0b0b0"/>
<polygon points="940.5,1276.3 960.9,1283.2 960.9,1297.2 940.5,1304.2 920.2,1297.2 920.2,1283.2" fill="#727272"/>
<polygon points="981.3,1276.3 1001.7,1283.2 1001.7,1297.2 981.3,1304.2 960.9,1297.2 960.9,1283.2" fill="#a8a8a8"/>
<polygon points="1022.1,1276.3 1042.5,1283.2 1042.5,1297.2 1022.1,1304.2 1001.7,1297.2 1001.7,1283.2" fill="#e8e8e8"/>
<polygon points="920.2,1297.2 940.5,1304.2 940.5,1318.1 920.2,1325.1 899.8,1318.1 899.8,1304.2" fill="#808080"/>
<polygon points="960.9,1297.2 981.3,1304.2 981.3,1318.1 960.9,1325.1 940.5,1318.1 940.5,1304.2" fill="#6a6a6a"/>
<polygon points="1001.7,1297.2 1022.1,1304.2 1022.1,1318.1 1001.7,1325.1 981.3,1318.1 981.3,1304.2" fill="#d0d0d0"/>
<polygon points="1042.5,1297.2 1062.9,1304.2 1062.9,1318.1 1042.5,1325.1 1022.1,1318.1 1022.1,1304.2" fill="#ececec"/>
<polygon points="899.8,1318.1 920.2,1325.1 920.2,1339.1 899.8,1346.1 879.4,1339.1 879.4,1325.1" fill="#969696"/>
<polygon points="940.5,1318.1 960.9,1325.1 960.9,1339.1 940.5,1346.1 920.2,1339.1 920.2,1325.1" fill="#333333"/>
<polygon points="981.3,1318.1 1001.7,1325.1 1001.7,1339.1 981.3,1346.1 960.9,1339.1 960.9,1325.1" fill="#a0a0a0"/>
<polygon points="1022.1,1318.1 1042.5,1325.1 1042.5,1339.1 1022.1,1346.1 1001.7,1339.1 1001.7,1325.1" fill="#e4e4e4"/>
<polygon points="1062.9,1318.1 1083.3,1325.1 1083.3,1339.1 1062.9,1346.1 1042.5,1339.1 1042.5,1325.1" fill="#f8f8f8"/>
<polygon points="920.2,1339.1 940.5,1346.1 940.5,1360.0 920.2,1367.0 899.8,1360.0 899.8,1346.1" fill="#7c7c7c"/>
<polygon points="960.9,1339.1 981.3,1346.1 981.3,1360.0 960.9,1367.0 940.5,1360.0 940.5,1346.1" fill="#444444"/>
<polygon points="1001.7,1339.1 1022.1,1346.1 1022.1,1360.0 1001.7,1367.0 981.3,1360.0 981.3,1346.1" fill="#b4b4b4"/>
<polygon points="1042.5,1339.1 1062.9,1346.1 1062.9,1360.0 1042.5,1367.0 1022.1,1360.0 1022.1,1346.1" fill="#e4e4e4"/>
<polygon points="899.8,1360.0 920.2,1367.0 920.2,1381.0 899.8,1387.9 879.4,1381.0 879.4,1367.0" fill="#e4e4e4"/>
<polygon points="940.5,1360.0 960.9,1367.0 960.9,1381.0 940.5,1387.9 920.2,1381.0 920.2,1367.0" fill="#b8b8b8"/>
<polygon points="981.3,1360.0 1001.7,1367.0 1001.7,1381.0 981.3,1387.9 960.9,1381.0 960.9,1367.0" fill="#c4c4c4"/>
<polygon points="1022.1,1360.0 1042.5,1367.0 1042.5,1381.0 1022.1,1387.9 1001.7,1381.0 1001.7,1367.0" fill="#f0f0f0"/>
<path d="M959.3,1102.0h0M931.5,1152.3h0M901.6,1169.9h0M909.4,1182.7h0M912.0,1186.3h0M900.0,1188.9h0M944.5,1193.5h0M963.3,1195.5h0M911.0,1203.3h0M984.5,1206.5h0M995.1,1187.9h0M1001.9,1193.7h0M1020.9,1205.1h0M1000.9,1218.1h0M1037.7,1217.7h0M1083.7,1203.9h0M997.9,1235.3h0M998.5,1239.1h0M986.5,1240.5h0M1097.3,1240.9h0M1003.5,1261.7h0M1013.9,1274.5h0M1062.9,1270.7h0M1083.7,1279.3h0M1123.8,1274.3h0M1065.5,1296.7h0M1088.3,1301.5h0M1122.6,1300.7h0M1036.9,1312.3h0M1081.3,1334.4h0M1058.9,1346.4h0M1062.9,1346.2h0M1096.5,1347.4h0M1109.5,1343.6h0M1108.3,1347.8h0M1034.9,1368.8h0M1075.3,1371.8h0M1095.1,1371.2h0" stroke="#000" stroke-opacity="0.45" stroke-width="1.6" stroke-linecap="round" fill="none"/>
<path d="M898.2,1228.9C898.7,1227.6 899.7,1223.4 901.4,1220.9C903.0,1218.4 905.4,1215.7 908.0,1213.9C910.6,1212.1 913.5,1210.7 917.0,1209.9C920.5,1209.1 924.9,1208.9 928.9,1208.9C932.9,1208.9 936.9,1209.1 940.9,1209.9C944.9,1210.7 948.9,1212.1 952.9,1213.9C956.9,1215.7 961.3,1218.4 964.9,1220.9C968.6,1223.4 971.6,1225.7 974.9,1228.9C978.3,1232.1 981.9,1236.1 984.9,1239.9C987.9,1243.7 990.2,1247.7 992.9,1251.9C995.6,1256.1 998.2,1261.1 1000.9,1264.9C1003.6,1268.7 1005.9,1271.9 1008.9,1274.9C1011.9,1277.9 1015.6,1280.5 1018.9,1282.9C1022.2,1285.2 1026.2,1286.2 1028.9,1288.9C1031.6,1291.5 1033.7,1295.2 1034.9,1298.9C1036.1,1302.5 1035.8,1306.9 1035.9,1310.9C1036.0,1314.9 1034.8,1318.9 1035.3,1322.9C1035.8,1326.9 1037.7,1330.9 1038.9,1334.8C1040.1,1338.8 1042.0,1343.2 1042.5,1346.8C1043.0,1350.5 1043.2,1353.7 1041.9,1356.8C1040.6,1360.0 1037.7,1363.5 1034.9,1365.8C1032.1,1368.2 1027.9,1369.4 1024.9,1370.8C1021.9,1372.2 1018.2,1373.7 1016.9,1374.2L898.2,1375.2Z" fill="none" stroke="#000" stroke-opacity="0.5" stroke-width="3" stroke-linejoin="round"/>
<path d="M898.8,1258.9C899.5,1256.9 901.6,1250.9 903.0,1246.9C904.3,1242.9 905.3,1238.2 907.0,1234.9C908.6,1231.6 910.6,1228.9 913.0,1226.9C915.3,1224.9 918.0,1223.7 921.0,1222.9C924.0,1222.1 927.3,1221.7 930.9,1221.9C934.6,1222.1 939.3,1222.7 942.9,1223.9C946.6,1225.1 949.9,1226.7 952.9,1228.9C955.9,1231.1 958.3,1233.7 960.9,1236.9C963.6,1240.1 966.3,1244.6 968.9,1247.9C971.6,1251.2 974.3,1253.7 976.9,1256.9C979.6,1260.1 982.6,1263.6 984.9,1266.9C987.2,1270.2 988.9,1273.2 990.9,1276.9C992.9,1280.5 994.9,1284.9 996.9,1288.9C998.9,1292.9 1000.9,1296.9 1002.9,1300.9C1004.9,1304.9 1006.9,1308.9 1008.9,1312.9C1010.9,1316.9 1012.9,1320.9 1014.9,1324.9C1016.9,1328.9 1019.4,1333.2 1020.9,1336.8C1022.4,1340.5 1023.9,1343.7 1023.9,1346.8C1023.9,1350.0 1022.7,1353.3 1020.9,1355.8C1019.1,1358.3 1015.9,1359.8 1012.9,1361.8C1009.9,1363.8 1006.6,1366.0 1002.9,1367.8C999.2,1369.7 994.2,1371.7 990.9,1372.8C987.6,1373.9 984.3,1374.2 982.9,1374.4L904.0,1374.4C903.2,1373.7 900.0,1370.6 899.2,1369.8Z" fill="none" stroke="#000" stroke-opacity="0.5" stroke-width="3" stroke-linejoin="round"/>
<path d="M900.6,1326.9C900.7,1321.9 902.1,1316.2 903.0,1310.9C903.9,1305.5 905.1,1299.9 906.0,1294.9C906.8,1289.9 907.0,1285.5 908.0,1280.9C909.0,1276.2 910.3,1271.2 912.0,1266.9C913.6,1262.6 915.8,1258.1 918.0,1254.9C920.1,1251.7 922.6,1249.1 924.9,1247.9C927.3,1246.7 929.6,1247.2 931.9,1247.9C934.3,1248.6 936.6,1250.2 938.9,1251.9C941.3,1253.6 943.3,1256.1 945.9,1257.9C948.6,1259.7 951.8,1261.2 954.9,1262.9C958.1,1264.6 961.9,1265.6 964.9,1267.9C967.9,1270.2 970.8,1273.4 972.9,1276.9C975.1,1280.4 976.6,1284.5 977.9,1288.9C979.3,1293.2 979.8,1298.5 980.9,1302.9C982.1,1307.2 983.3,1310.5 984.9,1314.9C986.6,1319.2 989.4,1324.5 990.9,1328.9C992.4,1333.2 993.7,1337.2 993.9,1340.8C994.1,1344.5 993.4,1347.7 991.9,1350.8C990.4,1354.0 987.7,1357.2 984.9,1359.8C982.1,1362.5 978.3,1364.8 974.9,1366.8C971.6,1368.8 967.6,1370.7 964.9,1371.8C962.3,1373.0 962.6,1373.5 958.9,1373.8C955.3,1374.2 948.3,1374.3 942.9,1373.8C937.6,1373.3 931.6,1372.3 926.9,1370.8C922.3,1369.3 918.3,1367.5 915.0,1364.8C911.6,1362.2 909.1,1358.8 907.0,1354.8C904.8,1350.8 903.0,1345.5 902.0,1340.8C900.9,1336.2 900.4,1331.9 900.6,1326.9Z" fill="none" stroke="#000" stroke-opacity="0.5" stroke-width="3" stroke-linejoin="round"/>
<path d="M941.9,1307.3C944.4,1307.6 948.3,1307.9 950.9,1309.9C953.6,1311.8 956.2,1315.4 957.9,1318.9C959.7,1322.4 960.7,1326.9 961.3,1330.9C962.0,1334.8 962.7,1339.3 961.9,1342.8C961.2,1346.3 959.1,1349.8 956.9,1351.8C954.8,1353.9 951.8,1355.2 948.9,1355.2C946.1,1355.2 942.8,1353.7 939.9,1351.8C937.1,1349.9 934.2,1347.0 931.9,1343.8C929.7,1340.7 927.6,1336.5 926.5,1332.8C925.5,1329.2 925.0,1325.4 925.5,1321.9C926.1,1318.4 928.2,1314.2 929.9,1311.9C931.7,1309.5 933.9,1308.6 935.9,1307.9C937.9,1307.1 939.4,1306.9 941.9,1307.3Z" fill="none" stroke="#000" stroke-opacity="0.5" stroke-width="3" stroke-linejoin="round"/>
</g></g>
<rect x="868" y="1088" width="300" height="300" fill="none" stroke="#000" stroke-width="2"/>
<g><clipPath id="c33"><rect x="1204" y="1088" width="300" height="300"/></clipPath>
<g clip-path="url(#c33)">
<path d="M1227.0,1388L1227.0,1117.6L1266.3,1117.6L1266.3,1121.4L1305.9,1121.4L1305.9,1240.9L1345.7,1240.9L1345.7,1315.3L1385.3,1315.3L1385.3,1364.4L1424.9,1364.4L1424.9,1385.2L1464.6,1385.2L1464.6,1385.2L1506.8,1385.2L1506.8,1388Z" fill="#e7e7e7"/>
<path d="M1266.3,1117.6L1266.3,1121.4L1305.9,1121.4L1305.9,1240.9L1345.7,1240.9L1345.7,1315.3L1385.3,1315.3L1385.3,1364.4L1424.9,1364.4L1424.9,1385.2L1464.6,1385.2L1464.6,1385.2L1506.8,1385.2" fill="none" stroke="#858585" stroke-width="3" stroke-linejoin="miter"/>
<line x1="1245.4" y1="1091" x2="1245.4" y2="1388" stroke="#757575" stroke-width="3" stroke-dasharray="9 9"/>
<line x1="1281.1" y1="1091" x2="1281.1" y2="1388" stroke="#757575" stroke-width="3" stroke-dasharray="9 9"/>
<line x1="1334.5" y1="1091" x2="1334.5" y2="1388" stroke="#757575" stroke-width="3" stroke-dasharray="9 9"/>
<path d="M1227.0,1255.9C1227.6,1251.1 1229.6,1236.7 1231.0,1226.9C1232.3,1217.1 1233.6,1206.6 1235.0,1196.9C1236.3,1187.3 1237.6,1177.6 1239.0,1168.9C1240.3,1160.3 1241.6,1151.9 1243.0,1144.9C1244.3,1138.0 1245.6,1132.1 1247.0,1127.0C1248.3,1121.8 1249.6,1117.4 1251.0,1114.0C1252.3,1110.6 1253.6,1108.4 1255.0,1106.6C1256.3,1104.7 1257.6,1103.7 1259.0,1103.0C1260.3,1102.2 1261.6,1101.9 1262.9,1102.0C1264.3,1102.0 1265.6,1102.5 1266.9,1103.4C1268.3,1104.2 1269.6,1105.4 1270.9,1107.0C1272.3,1108.6 1273.6,1110.6 1274.9,1113.0C1276.3,1115.3 1277.6,1118.1 1278.9,1121.0C1280.3,1123.8 1281.6,1126.8 1282.9,1130.0C1284.3,1133.1 1285.3,1135.8 1286.9,1140.0C1288.6,1144.1 1290.9,1150.1 1292.9,1154.9C1294.9,1159.8 1296.6,1163.8 1298.9,1168.9C1301.3,1174.1 1304.3,1180.1 1306.9,1185.9C1309.6,1191.8 1312.3,1197.4 1314.9,1203.9C1317.6,1210.4 1320.6,1218.4 1322.9,1224.9C1325.2,1231.4 1326.9,1236.9 1328.9,1242.9C1330.9,1248.9 1332.9,1255.6 1334.9,1260.9C1336.9,1266.2 1338.9,1270.9 1340.9,1274.9C1342.9,1278.9 1344.6,1281.2 1346.9,1284.9C1349.2,1288.5 1352.2,1292.7 1354.9,1296.9C1357.6,1301.0 1360.2,1305.2 1362.9,1309.9C1365.6,1314.5 1368.2,1320.0 1370.9,1324.9C1373.6,1329.7 1376.2,1334.7 1378.9,1338.8C1381.6,1343.0 1383.9,1346.5 1386.9,1349.8C1389.9,1353.2 1393.5,1356.2 1396.9,1358.8C1400.2,1361.5 1403.5,1363.6 1406.9,1365.8C1410.2,1368.1 1413.5,1370.3 1416.9,1372.4C1420.2,1374.5 1423.5,1376.8 1426.9,1378.4C1430.2,1380.1 1433.5,1381.4 1436.9,1382.4C1440.2,1383.5 1443.2,1384.3 1446.9,1384.8C1450.5,1385.4 1454.5,1385.7 1458.8,1385.8C1463.2,1386.0 1467.9,1385.7 1472.8,1385.6C1477.8,1385.5 1485.8,1385.3 1488.4,1385.2" fill="none" stroke="#000" stroke-width="3" stroke-linejoin="round"/>
</g></g>
<rect x="1204" y="1088" width="300" height="300" fill="none" stroke="#000" stroke-width="2"/>
<g><clipPath id="c40"><rect x="196" y="1424" width="300" height="300"/></clipPath>
<g clip-path="url(#c40)">
<polygon points="320.2,1423.9 337.5,1434.6 337.5,1456.0 320.2,1466.7 302.8,1456.0 302.8,1434.6" fill="#ececec"/>
<polygon points="354.9,1423.9 372.2,1434.6 372.2,1456.0 354.9,1466.7 337.5,1456.0 337.5,1434.6" fill="#f0f0f0"/>
<polygon points="389.6,1423.9 406.9,1434.6 406.9,1456.0 389.6,1466.7 372.2,1456.0 372.2,1434.6" fill="#f0f0f0"/>
<polygon points="268.1,1456.0 285.5,1466.7 285.5,1488.1 268.1,1498.8 250.8,1488.1 250.8,1466.7" fill="#f8f8f8"/>
<polygon points="302.8,1456.0 320.2,1466.7 320.2,1488.1 302.8,1498.8 285.5,1488.1 285.5,1466.7" fill="#a0a0a0"/>
<polygon points="337.5,1456.0 354.9,1466.7 354.9,1488.1 337.5,1498.8 320.2,1488.1 320.2,1466.7" fill="#303030"/>
<polygon points="372.2,1456.0 389.6,1466.7 389.6,1488.1 372.2,1498.8 354.9,1488.1 354.9,1466.7" fill="#444444"/>
<polygon points="406.9,1456.0 424.3,1466.7 424.3,1488.1 406.9,1498.8 389.6,1488.1 389.6,1466.7" fill="#888888"/>
<polygon points="441.6,1456.0 459.0,1466.7 459.0,1488.1 441.6,1498.8 424.3,1488.1 424.3,1466.7" fill="#f8f8f8"/>
<polygon points="476.4,1456.0 493.7,1466.7 493.7,1488.1 476.4,1498.8 459.0,1488.1 459.0,1466.7" fill="#f8f8f8"/>
<polygon points="250.8,1488.1 268.1,1498.8 268.1,1520.2 250.8,1530.9 233.4,1520.2 233.4,1498.8" fill="#e8e8e8"/>
<polygon points="285.5,1488.1 302.8,1498.8 302.8,1520.2 285.5,1530.9 268.1,1520.2 268.1,1498.8" fill="#c8c8c8"/>
<polygon points="320.2,1488.1 337.5,1498.8 337.5,1520.2 320.2,1530.9 302.8,1520.2 302.8,1498.8" fill="#333333"/>
<polygon points="354.9,1488.1 372.2,1498.8 372.2,1520.2 354.9,1530.9 337.5,1520.2 337.5,1498.8" fill="#444444"/>
<polygon points="389.6,1488.1 406.9,1498.8 406.9,1520.2 389.6,1530.9 372.2,1520.2 372.2,1498.8" fill="#3a3a3a"/>
<polygon points="424.3,1488.1 441.6,1498.8 441.6,1520.2 424.3,1530.9 406.9,1520.2 406.9,1498.8" fill="#a8a8a8"/>
<polygon points="459.0,1488.1 476.4,1498.8 476.4,1520.2 459.0,1530.9 441.6,1520.2 441.6,1498.8" fill="#f8f8f8"/>
<polygon points="302.8,1520.2 320.2,1530.9 320.2,1552.3 302.8,1563.1 285.5,1552.3 285.5,1530.9" fill="#a8a8a8"/>
<polygon points="337.5,1520.2 354.9,1530.9 354.9,1552.3 337.5,1563.1 320.2,1552.3 320.2,1530.9" fill="#585858"/>
<polygon points="372.2,1520.2 389.6,1530.9 389.6,1552.3 372.2,1563.1 354.9,1552.3 354.9,1530.9" fill="#969696"/>
<polygon points="406.9,1520.2 424.3,1530.9 424.3,1552.3 406.9,1563.1 389.6,1552.3 389.6,1530.9" fill="#f4f4f4"/>
<polygon points="441.6,1520.2 459.0,1530.9 459.0,1552.3 441.6,1563.1 424.3,1552.3 424.3,1530.9" fill="#f8f8f8"/>
<polygon points="285.5,1552.3 302.8,1563.1 302.8,1584.5 285.5,1595.2 268.1,1584.5 268.1,1563.1" fill="#f0f0f0"/>
<polygon points="320.2,1552.3 337.5,1563.1 337.5,1584.5 320.2,1595.2 302.8,1584.5 302.8,1563.1" fill="#dcdcdc"/>
<polygon points="354.9,1552.3 372.2,1563.1 372.2,1584.5 354.9,1595.2 337.5,1584.5 337.5,1563.1" fill="#a8a8a8"/>
<polygon points="389.6,1552.3 406.9,1563.1 406.9,1584.5 389.6,1595.2 372.2,1584.5 372.2,1563.1" fill="#e4e4e4"/>
<polygon points="424.3,1552.3 441.6,1563.1 441.6,1584.5 424.3,1595.2 406.9,1584.5 406.9,1563.1" fill="#f0f0f0"/>
<polygon points="268.1,1584.5 285.5,1595.2 285.5,1616.6 268.1,1627.3 250.8,1616.6 250.8,1595.2" fill="#e0e0e0"/>
<polygon points="302.8,1584.5 320.2,1595.2 320.2,1616.6 302.8,1627.3 285.5,1616.6 285.5,1595.2" fill="#d4d4d4"/>
<polygon points="337.5,1584.5 354.9,1595.2 354.9,1616.6 337.5,1627.3 320.2,1616.6 320.2,1595.2" fill="#a0a0a0"/>
<polygon points="372.2,1584.5 389.6,1595.2 389.6,1616.6 372.2,1627.3 354.9,1616.6 354.9,1595.2" fill="#d8d8d8"/>
<polygon points="406.9,1584.5 424.3,1595.2 424.3,1616.6 406.9,1627.3 389.6,1616.6 389.6,1595.2" fill="#e8e8e8"/>
<polygon points="441.6,1584.5 459.0,1595.2 459.0,1616.6 441.6,1627.3 424.3,1616.6 424.3,1595.2" fill="#f8f8f8"/>
<polygon points="285.5,1616.6 302.8,1627.3 302.8,1648.7 285.5,1659.4 268.1,1648.7 268.1,1627.3" fill="#f8f8f8"/>
<polygon points="354.9,1616.6 372.2,1627.3 372.2,1648.7 354.9,1659.4 337.5,1648.7 337.5,1627.3" fill="#d0d0d0"/>
<polygon points="389.6,1616.6 406.9,1627.3 406.9,1648.7 389.6,1659.4 372.2,1648.7 372.2,1627.3" fill="#d4d4d4"/>
<polygon points="337.5,1648.7 354.9,1659.4 354.9,1680.8 337.5,1691.5 320.2,1680.8 320.2,1659.4" fill="#f8f8f8"/>
<polygon points="372.2,1648.7 389.6,1659.4 389.6,1680.8 372.2,1691.5 354.9,1680.8 354.9,1659.4" fill="#f8f8f8"/>
<polygon points="354.9,1680.8 372.2,1691.5 372.2,1713.0 354.9,1723.7 337.5,1713.0 337.5,1691.5" fill="#f8f8f8"/>
<path d="M258.9,1467.8h0M244.0,1496.5h0M245.4,1502.5h0M252.4,1503.5h0M217.6,1504.9h0M256.5,1510.9h0M271.3,1519.5h0M268.5,1532.5h0M216.0,1562.9h0M265.9,1567.3h0M284.9,1586.9h0M279.9,1601.1h0M261.5,1605.3h0M266.5,1607.3h0M262.1,1609.9h0M276.5,1612.9h0M301.9,1631.3h0M299.5,1634.5h0M397.9,1646.9h0M365.5,1681.8h0M299.5,1685.8h0M328.7,1686.0h0M342.5,1686.2h0M360.5,1695.8h0M364.3,1702.6h0M435.9,1479.6h0M459.2,1476.0h0M475.8,1484.5h0M442.0,1500.5h0M474.2,1516.9h0M442.8,1534.5h0M437.3,1558.1h0M458.2,1558.1h0M425.3,1579.7h0M418.9,1580.9h0M414.9,1583.9h0M405.9,1586.3h0M424.9,1596.9h0M418.5,1600.1h0M440.2,1605.7h0M396.9,1608.5h0" stroke="#000" stroke-opacity="0.45" stroke-width="1.6" stroke-linecap="round" fill="none"/>
<path d="M303.9,1445.0L413.9,1445.0C415.0,1446.3 418.5,1450.0 420.9,1453.0C423.2,1456.0 425.7,1459.3 427.9,1463.0C430.0,1466.6 432.4,1470.6 433.9,1475.0C435.4,1479.3 436.2,1484.3 436.9,1488.9C437.5,1493.6 438.0,1497.9 437.9,1502.9C437.7,1507.9 436.9,1513.6 435.9,1518.9C434.9,1524.3 433.4,1529.6 431.9,1534.9C430.4,1540.3 428.5,1545.9 426.9,1550.9C425.2,1555.9 423.2,1560.9 421.9,1564.9C420.5,1568.9 420.4,1572.5 418.9,1574.9C417.4,1577.3 414.9,1578.3 412.9,1579.3C410.9,1580.3 408.7,1579.6 406.9,1580.9C405.0,1582.2 403.2,1584.2 401.9,1586.9C400.5,1589.6 399.7,1593.2 398.9,1596.9C398.0,1600.6 397.5,1604.6 396.9,1608.9C396.2,1613.2 395.7,1618.2 394.9,1622.9C394.0,1627.5 393.2,1632.2 391.9,1636.9C390.5,1641.5 388.9,1646.5 386.9,1650.9C384.9,1655.2 382.4,1659.4 379.9,1662.9C377.4,1666.4 374.7,1669.7 371.9,1671.8C369.1,1674.0 365.7,1675.7 362.9,1675.8C360.1,1676.0 357.6,1675.0 354.9,1672.8C352.2,1670.7 349.4,1666.9 346.9,1662.9C344.4,1658.9 342.2,1652.5 339.9,1648.9C337.6,1645.2 335.7,1643.2 332.9,1640.9C330.1,1638.5 326.2,1636.5 322.9,1634.9C319.6,1633.2 316.2,1631.9 312.9,1630.9C309.6,1629.9 305.9,1630.2 302.9,1628.9C299.9,1627.5 297.3,1625.9 294.9,1622.9C292.6,1619.9 290.4,1615.2 288.9,1610.9C287.4,1606.5 286.6,1601.9 285.9,1596.9C285.3,1591.9 285.3,1586.2 284.9,1580.9C284.6,1575.6 284.4,1570.2 283.9,1564.9C283.4,1559.6 282.8,1554.2 281.9,1548.9C281.1,1543.6 279.9,1538.3 278.9,1532.9C277.9,1527.6 276.6,1522.3 275.9,1516.9C275.3,1511.6 274.8,1506.3 274.9,1500.9C275.1,1495.6 275.9,1489.9 276.9,1484.9C277.9,1480.0 279.3,1475.3 280.9,1471.0C282.6,1466.6 284.6,1462.5 286.9,1459.0C289.3,1455.5 292.1,1452.3 294.9,1450.0C297.8,1447.6 302.4,1445.8 303.9,1445.0Z" fill="none" stroke="#000" stroke-opacity="0.5" stroke-width="3" stroke-linejoin="round"/>
<path d="M316.9,1445.4L396.9,1445.4C398.2,1446.0 401.9,1447.0 404.9,1449.0C407.9,1450.9 411.9,1453.6 414.9,1457.0C417.9,1460.3 420.7,1464.6 422.9,1469.0C425.0,1473.3 426.7,1478.0 427.9,1482.9C429.0,1487.9 429.9,1493.6 429.9,1498.9C429.9,1504.3 429.2,1509.9 427.9,1514.9C426.5,1519.9 424.0,1524.6 421.9,1528.9C419.7,1533.3 417.7,1537.6 414.9,1540.9C412.0,1544.2 408.2,1545.9 404.9,1548.9C401.5,1551.9 397.5,1555.2 394.9,1558.9C392.2,1562.6 390.4,1566.6 388.9,1570.9C387.4,1575.2 386.7,1579.9 385.9,1584.9C385.0,1589.9 384.5,1595.6 383.9,1600.9C383.2,1606.2 382.7,1611.9 381.9,1616.9C381.0,1621.9 380.2,1626.5 378.9,1630.9C377.6,1635.2 375.9,1639.7 373.9,1642.9C371.9,1646.0 369.4,1648.7 366.9,1649.9C364.4,1651.0 361.6,1650.7 358.9,1649.9C356.2,1649.0 353.6,1647.0 350.9,1644.9C348.2,1642.7 345.6,1639.9 342.9,1636.9C340.2,1633.9 337.9,1629.7 334.9,1626.9C331.9,1624.0 327.9,1622.5 324.9,1619.9C321.9,1617.2 319.6,1614.4 316.9,1610.9C314.3,1607.4 311.3,1603.2 308.9,1598.9C306.6,1594.6 304.9,1589.9 302.9,1584.9C300.9,1579.9 298.8,1574.6 296.9,1568.9C295.1,1563.2 293.6,1556.9 291.9,1550.9C290.3,1544.9 288.3,1538.9 286.9,1532.9C285.6,1526.9 284.6,1520.9 283.9,1514.9C283.3,1508.9 282.8,1502.6 282.9,1496.9C283.1,1491.3 283.8,1485.9 284.9,1480.9C286.1,1476.0 287.6,1471.0 289.9,1467.0C292.3,1463.0 295.8,1459.6 298.9,1457.0C302.1,1454.3 305.9,1452.9 308.9,1451.0C311.9,1449.0 315.6,1446.3 316.9,1445.4Z" fill="none" stroke="#000" stroke-opacity="0.5" stroke-width="3" stroke-linejoin="round"/>
<path d="M335.9,1447.0C339.2,1447.3 343.1,1449.7 346.9,1451.0C350.7,1452.2 354.9,1453.7 358.9,1454.6C362.9,1455.4 366.9,1455.6 370.9,1456.0C374.9,1456.4 378.9,1456.1 382.9,1457.0C386.9,1457.8 390.9,1459.0 394.9,1461.0C398.9,1463.0 403.5,1466.0 406.9,1469.0C410.2,1472.0 412.9,1475.3 414.9,1479.0C416.8,1482.6 418.1,1486.6 418.5,1490.9C418.8,1495.3 418.1,1500.6 416.9,1504.9C415.6,1509.3 413.5,1513.3 410.9,1516.9C408.2,1520.6 404.5,1523.6 400.9,1526.9C397.2,1530.3 392.5,1533.3 388.9,1536.9C385.2,1540.6 381.7,1544.9 378.9,1548.9C376.1,1552.9 373.9,1556.6 371.9,1560.9C369.9,1565.2 368.4,1570.2 366.9,1574.9C365.4,1579.6 364.2,1584.6 362.9,1588.9C361.6,1593.2 360.4,1598.0 358.9,1600.9C357.4,1603.8 355.9,1605.7 353.9,1606.5C351.9,1607.3 349.4,1607.1 346.9,1605.9C344.4,1604.6 341.6,1602.1 338.9,1598.9C336.2,1595.7 333.6,1591.2 330.9,1586.9C328.2,1582.6 325.6,1577.6 322.9,1572.9C320.2,1568.2 317.4,1563.6 314.9,1558.9C312.4,1554.2 309.9,1549.6 307.9,1544.9C305.9,1540.3 304.3,1535.9 302.9,1530.9C301.6,1525.9 300.6,1520.3 299.9,1514.9C299.3,1509.6 298.8,1504.3 298.9,1498.9C299.1,1493.6 299.6,1487.9 300.9,1482.9C302.3,1478.0 304.3,1473.3 306.9,1469.0C309.6,1464.6 313.6,1460.3 316.9,1457.0C320.2,1453.6 323.7,1450.6 326.9,1449.0C330.1,1447.3 332.6,1446.6 335.9,1447.0Z" fill="none" stroke="#000" stroke-opacity="0.5" stroke-width="3" stroke-linejoin="round"/>
<path d="M336.9,1473.0C339.2,1473.4 343.4,1475.0 345.9,1477.0C348.4,1479.0 350.1,1482.3 351.9,1484.9C353.7,1487.6 355.4,1490.3 356.9,1492.9C358.4,1495.6 359.2,1498.4 360.9,1500.9C362.6,1503.4 364.7,1506.3 366.9,1507.9C369.1,1509.5 371.7,1510.7 373.9,1510.5C376.1,1510.4 378.5,1508.9 379.9,1506.9C381.2,1505.0 382.0,1501.4 381.9,1498.9C381.7,1496.4 380.5,1493.6 378.9,1491.9C377.2,1490.3 374.2,1488.9 371.9,1488.9C369.6,1488.9 367.1,1490.3 364.9,1491.9C362.7,1493.6 360.7,1496.1 358.9,1498.9C357.1,1501.8 355.7,1505.4 353.9,1508.9C352.1,1512.4 350.1,1516.8 347.9,1519.9C345.7,1523.1 343.4,1526.3 340.9,1527.9C338.4,1529.6 335.2,1530.4 332.9,1529.9C330.6,1529.4 328.5,1527.4 326.9,1524.9C325.3,1522.4 324.1,1518.6 323.3,1514.9C322.5,1511.3 321.9,1506.9 321.9,1502.9C321.9,1498.9 322.5,1494.6 323.3,1490.9C324.1,1487.3 325.5,1483.7 326.9,1480.9C328.3,1478.2 330.2,1475.9 331.9,1474.6C333.6,1473.2 334.6,1472.6 336.9,1473.0Z" fill="none" stroke="#000" stroke-opacity="0.5" stroke-width="3" stroke-linejoin="round"/>
</g></g>
<rect x="196" y="1424" width="300" height="300" fill="none" stroke="#000" stroke-width="2"/>
<g><clipPath id="c41"><rect x="532" y="1424" width="300" height="300"/></clipPath>
<g clip-path="url(#c41)">
<polygon points="569.6,1423.9 601.7,1434.6 601.7,1456.0 569.6,1466.7 537.4,1456.0 537.4,1434.6" fill="#ececec"/>
<polygon points="633.9,1423.9 666.1,1434.6 666.1,1456.0 633.9,1466.7 601.7,1456.0 601.7,1434.6" fill="#f8f8f8"/>
<polygon points="601.7,1456.0 633.9,1466.7 633.9,1488.1 601.7,1498.8 569.6,1488.1 569.6,1466.7" fill="#333333"/>
<polygon points="666.1,1456.0 698.3,1466.7 698.3,1488.1 666.1,1498.8 633.9,1488.1 633.9,1466.7" fill="#a0a0a0"/>
<polygon points="730.5,1456.0 762.7,1466.7 762.7,1488.1 730.5,1498.8 698.3,1488.1 698.3,1466.7" fill="#e0e0e0"/>
<polygon points="569.6,1488.1 601.7,1498.8 601.7,1520.2 569.6,1530.9 537.4,1520.2 537.4,1498.8" fill="#a0a0a0"/>
<polygon points="633.9,1488.1 666.1,1498.8 666.1,1520.2 633.9,1530.9 601.7,1520.2 601.7,1498.8" fill="#6a6a6a"/>
<polygon points="698.3,1488.1 730.5,1498.8 730.5,1520.2 698.3,1530.9 666.1,1520.2 666.1,1498.8" fill="#666666"/>
<polygon points="762.7,1488.1 794.8,1498.8 794.8,1520.2 762.7,1530.9 730.5,1520.2 730.5,1498.8" fill="#f0f0f0"/>
<polygon points="666.1,1520.2 698.3,1530.9 698.3,1552.3 666.1,1563.1 633.9,1552.3 633.9,1530.9" fill="#c0c0c0"/>
<polygon points="730.5,1520.2 762.7,1530.9 762.7,1552.3 730.5,1563.1 698.3,1552.3 698.3,1530.9" fill="#7c7c7c"/>
<polygon points="794.8,1520.2 827.0,1530.9 827.0,1552.3 794.8,1563.1 762.7,1552.3 762.7,1530.9" fill="#fafafa"/>
<polygon points="698.3,1552.3 730.5,1563.1 730.5,1584.5 698.3,1595.2 666.1,1584.5 666.1,1563.1" fill="#ececec"/>
<polygon points="762.7,1552.3 794.8,1563.1 794.8,1584.5 762.7,1595.2 730.5,1584.5 730.5,1563.1" fill="#a0a0a0"/>
<polygon points="730.5,1584.5 762.7,1595.2 762.7,1616.6 730.5,1627.3 698.3,1616.6 698.3,1595.2" fill="#c8c8c8"/>
<polygon points="794.8,1584.5 827.0,1595.2 827.0,1616.6 794.8,1627.3 762.7,1616.6 762.7,1595.2" fill="#a8a8a8"/>
<polygon points="762.7,1616.6 794.8,1627.3 794.8,1648.7 762.7,1659.4 730.5,1648.7 730.5,1627.3" fill="#c0c0c0"/>
<polygon points="794.8,1648.7 827.0,1659.4 827.0,1680.8 794.8,1691.5 762.7,1680.8 762.7,1659.4" fill="#f8f8f8"/>
<polygon points="762.7,1680.8 794.8,1691.5 794.8,1713.0 762.7,1723.7 730.5,1713.0 730.5,1691.5" fill="#f0f0f0"/>
<path d="M777.4,1511.3h0M778.8,1646.9h0M784.8,1645.5h0M776.4,1652.5h0M770.5,1660.9h0M775.5,1657.9h0M773.5,1681.8h0M771.9,1685.8h0M775.9,1686.2h0M777.2,1695.8h0M773.5,1702.4h0" stroke="#000" stroke-opacity="0.45" stroke-width="1.6" stroke-linecap="round" fill="none"/>
<path d="M568.6,1445.0L657.9,1445.0C660.7,1445.6 668.7,1447.3 674.9,1449.0C681.1,1450.6 688.2,1452.6 694.9,1455.0C701.6,1457.3 708.9,1460.1 714.9,1463.0C720.9,1465.8 725.9,1468.6 730.9,1472.0C735.9,1475.3 740.5,1478.8 744.9,1482.9C749.2,1487.1 753.5,1492.3 756.9,1496.9C760.2,1501.6 762.5,1506.3 764.9,1510.9C767.2,1515.6 768.9,1520.6 770.9,1524.9C772.9,1529.3 774.5,1533.3 776.8,1536.9C779.2,1540.6 781.8,1543.9 784.8,1546.9C787.9,1549.9 793.5,1553.6 795.2,1554.9L795.4,1639.9C794.3,1640.5 791.6,1642.7 788.8,1643.9C786.1,1645.0 782.2,1646.3 778.8,1646.9C775.5,1647.5 772.5,1647.8 768.9,1647.5C765.2,1647.1 760.9,1646.2 756.9,1644.9C752.9,1643.5 748.5,1641.4 744.9,1639.3C741.2,1637.1 738.2,1634.8 734.9,1631.9C731.5,1629.0 728.2,1625.5 724.9,1621.9C721.5,1618.2 718.2,1613.9 714.9,1609.9C711.6,1605.9 708.6,1601.9 704.9,1597.9C701.2,1593.9 697.2,1589.7 692.9,1585.9C688.6,1582.1 683.9,1578.4 678.9,1574.9C673.9,1571.4 668.2,1567.9 662.9,1564.9C657.6,1561.9 652.2,1559.4 646.9,1556.9C641.6,1554.4 636.6,1552.1 630.9,1549.9C625.3,1547.7 618.9,1545.7 612.9,1543.9C606.9,1542.2 600.6,1540.8 594.9,1539.3C589.3,1537.8 583.4,1536.3 579.0,1534.9C574.6,1533.6 570.3,1531.9 568.6,1531.3Z" fill="none" stroke="#000" stroke-opacity="0.5" stroke-width="3" stroke-linejoin="round"/>
<path d="M568.6,1452.0C570.3,1451.3 575.2,1449.0 579.0,1448.0C582.7,1447.0 586.3,1446.4 590.9,1446.0C595.6,1445.6 601.3,1445.5 606.9,1445.6C612.6,1445.7 618.9,1445.9 624.9,1446.6C630.9,1447.2 636.9,1448.1 642.9,1449.4C648.9,1450.6 654.9,1452.3 660.9,1454.0C666.9,1455.6 672.9,1457.4 678.9,1459.4C684.9,1461.4 691.2,1463.5 696.9,1466.0C702.6,1468.4 707.9,1471.1 712.9,1474.0C717.9,1476.8 722.5,1479.6 726.9,1482.9C731.2,1486.3 735.2,1489.9 738.9,1493.9C742.5,1497.9 745.9,1502.4 748.9,1506.9C751.9,1511.4 754.5,1516.3 756.9,1520.9C759.2,1525.6 760.9,1530.6 762.9,1534.9C764.9,1539.3 766.5,1543.2 768.9,1546.9C771.2,1550.6 773.9,1553.6 776.8,1556.9C779.8,1560.2 783.8,1563.6 786.8,1566.9C789.9,1570.2 793.8,1575.2 795.2,1576.9L795.4,1622.9C794.3,1623.7 791.6,1626.5 788.8,1627.9C786.1,1629.3 782.2,1630.5 778.8,1631.3C775.5,1632.0 772.5,1632.5 768.9,1632.3C765.2,1632.0 760.9,1631.3 756.9,1629.9C752.9,1628.5 748.5,1626.2 744.9,1623.9C741.2,1621.5 738.2,1619.0 734.9,1615.9C731.5,1612.7 728.2,1608.7 724.9,1604.9C721.5,1601.1 718.5,1596.7 714.9,1592.9C711.2,1589.1 707.2,1585.4 702.9,1581.9C698.6,1578.4 693.9,1575.1 688.9,1571.9C683.9,1568.7 678.6,1565.5 672.9,1562.5C667.2,1559.5 660.9,1556.6 654.9,1553.9C648.9,1551.2 642.9,1548.7 636.9,1546.5C630.9,1544.3 624.9,1542.3 618.9,1540.5C612.9,1538.8 606.9,1537.5 600.9,1535.9C594.9,1534.3 588.4,1532.8 583.0,1530.9C577.6,1529.1 571.0,1525.9 568.6,1524.9Z" fill="none" stroke="#000" stroke-opacity="0.5" stroke-width="3" stroke-linejoin="round"/>
<path d="M568.6,1465.0C570.3,1464.1 575.2,1461.5 579.0,1460.0C582.7,1458.5 586.6,1457.0 590.9,1456.0C595.3,1455.0 600.3,1454.2 604.9,1454.0C609.6,1453.7 613.9,1454.1 618.9,1454.6C623.9,1455.1 629.6,1456.0 634.9,1457.0C640.3,1458.0 645.6,1459.2 650.9,1460.6C656.2,1462.0 661.6,1463.6 666.9,1465.4C672.2,1467.2 677.6,1469.2 682.9,1471.4C688.2,1473.6 693.9,1476.0 698.9,1478.6C703.9,1481.1 708.6,1483.9 712.9,1486.9C717.2,1490.0 721.2,1493.3 724.9,1496.9C728.5,1500.6 731.9,1504.9 734.9,1508.9C737.9,1512.9 740.7,1516.9 742.9,1520.9C745.0,1524.9 746.5,1528.9 747.9,1532.9C749.2,1536.9 749.9,1540.9 750.9,1544.9C751.9,1548.9 752.5,1553.2 753.9,1556.9C755.2,1560.6 756.7,1563.6 758.9,1566.9C761.0,1570.2 764.2,1573.6 766.9,1576.9C769.5,1580.2 772.9,1583.6 774.9,1586.9C776.8,1590.2 778.5,1593.9 778.8,1596.9C779.2,1599.9 778.2,1603.1 776.8,1604.9C775.5,1606.7 773.2,1607.4 770.9,1607.9C768.5,1608.4 765.5,1608.4 762.9,1607.9C760.2,1607.4 757.5,1606.5 754.9,1604.9C752.2,1603.2 749.5,1600.7 746.9,1597.9C744.2,1595.1 741.9,1591.2 738.9,1587.9C735.9,1584.6 732.9,1581.1 728.9,1577.9C724.9,1574.7 719.9,1571.7 714.9,1568.9C709.9,1566.1 704.2,1563.6 698.9,1560.9C693.6,1558.2 688.2,1555.4 682.9,1552.9C677.6,1550.4 672.2,1548.1 666.9,1545.9C661.6,1543.7 656.2,1541.8 650.9,1539.9C645.6,1538.0 640.6,1536.2 634.9,1534.5C629.3,1532.9 622.9,1531.5 616.9,1529.9C610.9,1528.4 604.9,1527.0 598.9,1525.3C592.9,1523.7 586.0,1521.8 581.0,1519.9C575.9,1518.0 570.6,1514.9 568.6,1513.9Z" fill="none" stroke="#000" stroke-opacity="0.5" stroke-width="3" stroke-linejoin="round"/>
<path d="M587.0,1488.9C586.8,1486.4 587.6,1483.9 588.9,1481.9C590.3,1480.0 592.3,1478.5 594.9,1477.4C597.6,1476.3 601.3,1475.6 604.9,1475.4C608.6,1475.1 612.6,1475.4 616.9,1476.0C621.3,1476.6 626.3,1477.6 630.9,1479.0C635.6,1480.3 640.3,1481.9 644.9,1483.9C649.6,1485.9 654.6,1488.4 658.9,1490.9C663.2,1493.4 667.4,1496.4 670.9,1498.9C674.4,1501.4 677.8,1503.9 679.9,1505.9C682.0,1507.9 683.3,1509.5 683.3,1510.9C683.3,1512.4 682.0,1513.9 679.9,1514.5C677.8,1515.2 674.7,1515.0 670.9,1514.9C667.1,1514.8 661.9,1514.3 656.9,1513.9C651.9,1513.5 646.3,1513.0 640.9,1512.5C635.6,1512.0 630.3,1511.7 624.9,1510.9C619.6,1510.2 613.6,1509.3 608.9,1507.9C604.3,1506.6 600.1,1504.8 596.9,1502.9C593.8,1501.1 591.6,1499.3 589.9,1496.9C588.3,1494.6 587.1,1491.4 587.0,1488.9Z" fill="none" stroke="#000" stroke-opacity="0.5" stroke-width="3" stroke-linejoin="round"/>
</g></g>
<rect x="532" y="1424" width="300" height="300" fill="none" stroke="#000" stroke-width="2"/>
<g><clipPath id="c42"><rect x="868" y="1424" width="300" height="300"/></clipPath>
<g clip-path="url(#c42)">
<polygon points="1062.9,1423.9 1083.3,1434.6 1083.3,1456.0 1062.9,1466.7 1042.5,1456.0 1042.5,1434.6" fill="#fafafa"/>
<polygon points="1103.7,1423.9 1124.0,1434.6 1124.0,1456.0 1103.7,1466.7 1083.3,1456.0 1083.3,1434.6" fill="#fcfcfc"/>
<polygon points="960.9,1456.0 981.3,1466.7 981.3,1488.1 960.9,1498.8 940.5,1488.1 940.5,1466.7" fill="#6a6a6a"/>
<polygon points="1001.7,1456.0 1022.1,1466.7 1022.1,1488.1 1001.7,1498.8 981.3,1488.1 981.3,1466.7" fill="#a0a0a0"/>
<polygon points="1042.5,1456.0 1062.9,1466.7 1062.9,1488.1 1042.5,1498.8 1022.1,1488.1 1022.1,1466.7" fill="#e8e8e8"/>
<polygon points="1083.3,1456.0 1103.7,1466.7 1103.7,1488.1 1083.3,1498.8 1062.9,1488.1 1062.9,1466.7" fill="#f4f4f4"/>
<polygon points="940.5,1488.1 960.9,1498.8 960.9,1520.2 940.5,1530.9 920.2,1520.2 920.2,1498.8" fill="#333333"/>
<polygon points="981.3,1488.1 1001.7,1498.8 1001.7,1520.2 981.3,1530.9 960.9,1520.2 960.9,1498.8" fill="#c0c0c0"/>
<polygon points="1022.1,1488.1 1042.5,1498.8 1042.5,1520.2 1022.1,1530.9 1001.7,1520.2 1001.7,1498.8" fill="#f4f4f4"/>
<polygon points="920.2,1520.2 940.5,1530.9 940.5,1552.3 920.2,1563.1 899.8,1552.3 899.8,1530.9" fill="#848484"/>
<polygon points="960.9,1520.2 981.3,1530.9 981.3,1552.3 960.9,1563.1 940.5,1552.3 940.5,1530.9" fill="#dcdcdc"/>
<polygon points="899.8,1552.3 920.2,1563.1 920.2,1584.5 899.8,1595.2 879.4,1584.5 879.4,1563.1" fill="#d0d0d0"/>
<polygon points="940.5,1552.3 960.9,1563.1 960.9,1584.5 940.5,1595.2 920.2,1584.5 920.2,1563.1" fill="#f0f0f0"/>
<polygon points="981.3,1552.3 1001.7,1563.1 1001.7,1584.5 981.3,1595.2 960.9,1584.5 960.9,1563.1" fill="#fafafa"/>
<polygon points="1022.1,1552.3 1042.5,1563.1 1042.5,1584.5 1022.1,1595.2 1001.7,1584.5 1001.7,1563.1" fill="#f4f4f4"/>
<polygon points="920.2,1584.5 940.5,1595.2 940.5,1616.6 920.2,1627.3 899.8,1616.6 899.8,1595.2" fill="#b0b0b0"/>
<polygon points="960.9,1584.5 981.3,1595.2 981.3,1616.6 960.9,1627.3 940.5,1616.6 940.5,1595.2" fill="#ececec"/>
<polygon points="1001.7,1584.5 1022.1,1595.2 1022.1,1616.6 1001.7,1627.3 981.3,1616.6 981.3,1595.2" fill="#fafafa"/>
<polygon points="899.8,1616.6 920.2,1627.3 920.2,1648.7 899.8,1659.4 879.4,1648.7 879.4,1627.3" fill="#e0e0e0"/>
<polygon points="940.5,1616.6 960.9,1627.3 960.9,1648.7 940.5,1659.4 920.2,1648.7 920.2,1627.3" fill="#f8f8f8"/>
<polygon points="920.2,1648.7 940.5,1659.4 940.5,1680.8 920.2,1691.5 899.8,1680.8 899.8,1659.4" fill="#fcfcfc"/>
<polygon points="899.8,1680.8 920.2,1691.5 920.2,1713.0 899.8,1723.7 879.4,1713.0 879.4,1691.5" fill="#f2f2f2"/>
<path d="M1123.8,1445.6h0M1122.8,1450.4h0M1062.9,1455.4h0M1083.9,1455.0h0M1088.3,1453.4h0M1109.5,1458.0h0M1058.9,1461.6h0M1062.9,1467.4h0M1075.3,1465.0h0M1080.9,1467.6h0M1083.7,1468.2h0M1094.9,1472.0h0M1096.7,1473.6h0M1108.3,1470.0h0M1065.5,1501.1h0M1097.3,1511.3h0M1030.9,1515.9h0M1026.5,1528.3h0M1022.3,1528.9h0M1009.9,1534.9h0M1020.5,1567.9h0M1020.3,1569.3h0M1004.1,1575.7h0M1003.5,1582.9h0M993.5,1583.5h0M985.1,1585.3h0M968.5,1587.1h0M1007.9,1587.1h0M1000.9,1590.5h0M996.9,1592.5h0M977.9,1593.5h0M991.5,1597.5h0M965.5,1604.9h0M969.1,1604.3h0M904.0,1682.0h0M900.4,1685.8h0M902.0,1686.2h0M900.0,1695.8h0M899.6,1702.6h0" stroke="#000" stroke-opacity="0.45" stroke-width="1.6" stroke-linecap="round" fill="none"/>
<path d="M898.6,1506.9C899.5,1504.9 901.9,1499.3 904.0,1494.9C906.0,1490.6 908.5,1485.6 911.0,1480.9C913.5,1476.3 916.3,1471.1 919.0,1467.0C921.6,1462.8 923.8,1459.6 926.9,1456.0C930.1,1452.3 936.1,1446.8 937.9,1445.0L1023.9,1445.0C1025.4,1445.6 1030.2,1447.1 1032.9,1449.0C1035.6,1450.8 1038.1,1453.1 1039.9,1456.0C1041.7,1458.8 1043.1,1462.5 1043.9,1466.0C1044.7,1469.5 1044.8,1473.1 1044.5,1477.0C1044.2,1480.8 1043.2,1484.9 1041.9,1488.9C1040.6,1492.9 1039.1,1497.1 1036.9,1500.9C1034.7,1504.8 1031.9,1508.6 1028.9,1511.9C1025.9,1515.3 1022.6,1517.9 1018.9,1520.9C1015.2,1523.9 1010.9,1526.6 1006.9,1529.9C1002.9,1533.3 998.6,1537.1 994.9,1540.9C991.2,1544.7 987.9,1548.9 984.9,1552.9C981.9,1556.9 979.3,1560.9 976.9,1564.9C974.6,1568.9 972.6,1572.9 970.9,1576.9C969.3,1580.9 968.3,1584.6 966.9,1588.9C965.6,1593.2 964.6,1598.2 962.9,1602.9C961.3,1607.5 959.3,1612.2 956.9,1616.9C954.6,1621.5 951.9,1626.2 948.9,1630.9C945.9,1635.5 942.3,1640.5 938.9,1644.9C935.6,1649.2 932.3,1653.0 928.9,1656.9C925.6,1660.7 922.0,1664.9 919.0,1667.9C916.0,1670.8 913.5,1673.3 911.0,1674.8C908.5,1676.4 905.9,1677.4 904.0,1677.2C902.0,1677.1 900.1,1674.4 899.4,1673.8Z" fill="none" stroke="#000" stroke-opacity="0.5" stroke-width="3" stroke-linejoin="round"/>
<path d="M899.0,1522.9C899.6,1520.3 901.3,1512.3 903.0,1506.9C904.6,1501.6 906.6,1496.3 909.0,1490.9C911.3,1485.6 914.0,1480.0 917.0,1475.0C920.0,1470.0 923.3,1465.1 926.9,1461.0C930.6,1456.8 934.9,1452.6 938.9,1450.0C942.9,1447.4 945.6,1446.3 950.9,1445.4C956.3,1444.5 964.3,1444.5 970.9,1444.6C977.6,1444.7 985.3,1444.9 990.9,1446.0C996.6,1447.0 1000.6,1448.8 1004.9,1451.0C1009.2,1453.1 1013.4,1456.0 1016.9,1459.0C1020.4,1462.0 1023.8,1465.5 1025.9,1469.0C1028.0,1472.5 1029.0,1476.3 1029.3,1480.0C1029.6,1483.6 1029.1,1487.3 1027.9,1490.9C1026.7,1494.6 1024.4,1498.4 1021.9,1501.9C1019.4,1505.4 1016.1,1508.8 1012.9,1511.9C1009.7,1515.1 1006.6,1517.8 1002.9,1520.9C999.2,1524.1 994.9,1527.3 990.9,1530.9C986.9,1534.6 982.6,1538.9 978.9,1542.9C975.3,1546.9 971.9,1550.9 968.9,1554.9C965.9,1558.9 963.3,1562.9 960.9,1566.9C958.6,1570.9 956.6,1574.9 954.9,1578.9C953.3,1582.9 952.3,1586.6 950.9,1590.9C949.6,1595.2 948.6,1600.2 946.9,1604.9C945.3,1609.5 943.3,1614.2 940.9,1618.9C938.6,1623.5 935.9,1628.5 932.9,1632.9C929.9,1637.2 926.3,1641.7 923.0,1644.9C919.6,1648.0 916.0,1651.0 913.0,1651.9C910.0,1652.7 907.1,1651.4 905.0,1649.9C902.8,1648.4 901.0,1645.7 900.0,1642.9C898.9,1640.0 898.8,1634.5 898.6,1632.9Z" fill="none" stroke="#000" stroke-opacity="0.5" stroke-width="3" stroke-linejoin="round"/>
<path d="M900.0,1544.9C900.0,1538.3 901.6,1532.9 903.0,1526.9C904.3,1520.9 906.0,1514.9 908.0,1508.9C910.0,1502.9 912.3,1496.6 915.0,1490.9C917.6,1485.3 920.6,1479.6 924.0,1475.0C927.3,1470.3 930.9,1466.1 934.9,1463.0C938.9,1459.8 943.6,1457.5 947.9,1456.0C952.3,1454.5 956.4,1454.0 960.9,1454.0C965.4,1454.0 970.6,1454.9 974.9,1456.0C979.3,1457.1 983.3,1458.7 986.9,1460.6C990.6,1462.4 994.3,1464.4 996.9,1467.0C999.5,1469.5 1001.4,1472.8 1002.5,1476.0C1003.6,1479.1 1003.7,1482.4 1003.3,1485.9C1002.9,1489.4 1001.6,1493.1 999.9,1496.9C998.2,1500.8 995.6,1504.9 992.9,1508.9C990.2,1512.9 987.2,1516.9 983.9,1520.9C980.6,1524.9 976.8,1528.9 972.9,1532.9C969.1,1536.9 964.6,1541.1 960.9,1544.9C957.3,1548.7 953.9,1552.2 950.9,1555.9C947.9,1559.6 945.3,1563.1 942.9,1566.9C940.6,1570.7 938.8,1574.9 936.9,1578.9C935.1,1582.9 933.6,1586.9 931.9,1590.9C930.3,1594.9 928.8,1599.6 926.9,1602.9C925.1,1606.2 923.0,1608.9 921.0,1610.9C919.0,1612.8 916.8,1614.3 915.0,1614.5C913.1,1614.6 911.5,1613.8 910.0,1611.9C908.5,1609.9 907.0,1607.0 906.0,1602.9C905.0,1598.7 904.5,1592.9 904.0,1586.9C903.5,1580.9 903.6,1573.9 903.0,1566.9C902.3,1559.9 900.0,1551.6 900.0,1544.9Z" fill="none" stroke="#000" stroke-opacity="0.5" stroke-width="3" stroke-linejoin="round"/>
<path d="M955.9,1480.6C958.1,1480.9 961.8,1481.2 963.9,1482.9C966.0,1484.7 967.9,1487.9 968.5,1490.9C969.2,1493.9 968.9,1497.4 967.9,1500.9C967.0,1504.4 965.3,1508.5 962.9,1511.9C960.6,1515.3 957.1,1518.8 953.9,1521.3C950.8,1523.8 946.9,1526.3 943.9,1526.9C940.9,1527.5 937.8,1526.6 935.9,1524.9C934.0,1523.3 933.0,1520.1 932.5,1516.9C932.1,1513.8 932.4,1509.8 933.3,1505.9C934.2,1502.1 936.0,1497.4 937.9,1493.9C939.9,1490.4 942.8,1487.1 944.9,1484.9C947.1,1482.8 949.1,1481.7 950.9,1480.9C952.8,1480.2 953.8,1480.2 955.9,1480.6Z" fill="none" stroke="#000" stroke-opacity="0.5" stroke-width="3" stroke-linejoin="round"/>
</g></g>
<rect x="868" y="1424" width="300" height="300" fill="none" stroke="#000" stroke-width="2"/>
<g><clipPath id="c43"><rect x="1204" y="1424" width="300" height="300"/></clipPath>
<g clip-path="url(#c43)">
<polygon points="1267.1,1423.9 1287.2,1434.6 1287.2,1456.0 1267.1,1466.7 1247.0,1456.0 1247.0,1434.6" fill="#f8f8f8"/>
<polygon points="1307.4,1423.9 1327.5,1434.6 1327.5,1456.0 1307.4,1466.7 1287.2,1456.0 1287.2,1434.6" fill="#f8f8f8"/>
<polygon points="1247.0,1456.0 1267.1,1466.7 1267.1,1488.1 1247.0,1498.8 1226.8,1488.1 1226.8,1466.7" fill="#333333"/>
<polygon points="1287.2,1456.0 1307.4,1466.7 1307.4,1488.1 1287.2,1498.8 1267.1,1488.1 1267.1,1466.7" fill="#949494"/>
<polygon points="1327.5,1456.0 1347.7,1466.7 1347.7,1488.1 1327.5,1498.8 1307.4,1488.1 1307.4,1466.7" fill="#d0d0d0"/>
<polygon points="1367.8,1456.0 1387.9,1466.7 1387.9,1488.1 1367.8,1498.8 1347.7,1488.1 1347.7,1466.7" fill="#e8e8e8"/>
<polygon points="1408.1,1456.0 1428.2,1466.7 1428.2,1488.1 1408.1,1498.8 1387.9,1488.1 1387.9,1466.7" fill="#fafafa"/>
<polygon points="1226.8,1488.1 1247.0,1498.8 1247.0,1520.2 1226.8,1530.9 1206.7,1520.2 1206.7,1498.8" fill="#b8b8b8"/>
<polygon points="1267.1,1488.1 1287.2,1498.8 1287.2,1520.2 1267.1,1530.9 1247.0,1520.2 1247.0,1498.8" fill="#404040"/>
<polygon points="1307.4,1488.1 1327.5,1498.8 1327.5,1520.2 1307.4,1530.9 1287.2,1520.2 1287.2,1498.8" fill="#747474"/>
<polygon points="1347.7,1488.1 1367.8,1498.8 1367.8,1520.2 1347.7,1530.9 1327.5,1520.2 1327.5,1498.8" fill="#d0d0d0"/>
<polygon points="1387.9,1488.1 1408.1,1498.8 1408.1,1520.2 1387.9,1530.9 1367.8,1520.2 1367.8,1498.8" fill="#f4f4f4"/>
<polygon points="1247.0,1520.2 1267.1,1530.9 1267.1,1552.3 1247.0,1563.1 1226.8,1552.3 1226.8,1530.9" fill="#c0c0c0"/>
<polygon points="1287.2,1520.2 1307.4,1530.9 1307.4,1552.3 1287.2,1563.1 1267.1,1552.3 1267.1,1530.9" fill="#c8c8c8"/>
<polygon points="1327.5,1520.2 1347.7,1530.9 1347.7,1552.3 1327.5,1563.1 1307.4,1552.3 1307.4,1530.9" fill="#b8b8b8"/>
<polygon points="1367.8,1520.2 1387.9,1530.9 1387.9,1552.3 1367.8,1563.1 1347.7,1552.3 1347.7,1530.9" fill="#e0e0e0"/>
<polygon points="1408.1,1520.2 1428.2,1530.9 1428.2,1552.3 1408.1,1563.1 1387.9,1552.3 1387.9,1530.9" fill="#fafafa"/>
<polygon points="1226.8,1552.3 1247.0,1563.1 1247.0,1584.5 1226.8,1595.2 1206.7,1584.5 1206.7,1563.1" fill="#fafafa"/>
<polygon points="1267.1,1552.3 1287.2,1563.1 1287.2,1584.5 1267.1,1595.2 1247.0,1584.5 1247.0,1563.1" fill="#d0d0d0"/>
<polygon points="1307.4,1552.3 1327.5,1563.1 1327.5,1584.5 1307.4,1595.2 1287.2,1584.5 1287.2,1563.1" fill="#d8d8d8"/>
<polygon points="1347.7,1552.3 1367.8,1563.1 1367.8,1584.5 1347.7,1595.2 1327.5,1584.5 1327.5,1563.1" fill="#e4e4e4"/>
<polygon points="1247.0,1584.5 1267.1,1595.2 1267.1,1616.6 1247.0,1627.3 1226.8,1616.6 1226.8,1595.2" fill="#e0e0e0"/>
<polygon points="1287.2,1584.5 1307.4,1595.2 1307.4,1616.6 1287.2,1627.3 1267.1,1616.6 1267.1,1595.2" fill="#b4b4b4"/>
<polygon points="1327.5,1584.5 1347.7,1595.2 1347.7,1616.6 1327.5,1627.3 1307.4,1616.6 1307.4,1595.2" fill="#e0e0e0"/>
<polygon points="1367.8,1584.5 1387.9,1595.2 1387.9,1616.6 1367.8,1627.3 1347.7,1616.6 1347.7,1595.2" fill="#f2f2f2"/>
<polygon points="1408.1,1584.5 1428.2,1595.2 1428.2,1616.6 1408.1,1627.3 1387.9,1616.6 1387.9,1595.2" fill="#fafafa"/>
<polygon points="1226.8,1616.6 1247.0,1627.3 1247.0,1648.7 1226.8,1659.4 1206.7,1648.7 1206.7,1627.3" fill="#fafafa"/>
<polygon points="1267.1,1616.6 1287.2,1627.3 1287.2,1648.7 1267.1,1659.4 1247.0,1648.7 1247.0,1627.3" fill="#f0f0f0"/>
<polygon points="1307.4,1616.6 1327.5,1627.3 1327.5,1648.7 1307.4,1659.4 1287.2,1648.7 1287.2,1627.3" fill="#f4f4f4"/>
<polygon points="1347.7,1616.6 1367.8,1627.3 1367.8,1648.7 1347.7,1659.4 1327.5,1648.7 1327.5,1627.3" fill="#fafafa"/>
<polygon points="1247.0,1648.7 1267.1,1659.4 1267.1,1680.8 1247.0,1691.5 1226.8,1680.8 1226.8,1659.4" fill="#fcfcfc"/>
<polygon points="1287.2,1648.7 1307.4,1659.4 1307.4,1680.8 1287.2,1691.5 1267.1,1680.8 1267.1,1659.4" fill="#fcfcfc"/>
<path d="M1390.3,1455.0h0M1376.9,1467.0h0M1389.3,1473.0h0M1405.9,1469.6h0M1387.9,1497.3h0M1400.3,1500.9h0M1488.4,1508.1h0M1398.3,1523.5h0M1400.5,1536.9h0M1440.1,1539.3h0M1407.5,1562.9h0M1410.7,1581.3h0M1370.1,1592.3h0M1369.5,1599.9h0M1353.5,1609.5h0M1358.3,1609.1h0M1390.9,1612.9h0M1404.7,1613.5h0M1235.8,1630.5h0M1244.6,1637.5h0M1239.6,1645.5h0M1364.1,1639.5h0M1334.7,1645.1h0M1313.5,1646.9h0M1330.5,1652.5h0M1300.5,1657.5h0M1301.9,1660.9h0M1239.0,1682.0h0M1244.6,1685.8h0M1354.9,1686.2h0M1423.3,1686.0h0M1263.5,1695.8h0M1314.5,1702.4h0" stroke="#000" stroke-opacity="0.45" stroke-width="1.6" stroke-linecap="round" fill="none"/>
<path d="M1225.6,1443.8L1319.5,1443.8C1320.4,1444.3 1322.9,1445.4 1324.9,1447.0C1327.0,1448.6 1329.6,1451.2 1331.9,1453.4C1334.2,1455.5 1336.1,1457.7 1338.9,1460.0C1341.7,1462.2 1345.6,1465.1 1348.9,1467.0C1352.2,1468.8 1355.6,1469.5 1358.9,1471.0C1362.2,1472.5 1366.1,1473.6 1368.9,1476.0C1371.7,1478.3 1374.1,1481.4 1375.9,1484.9C1377.7,1488.4 1378.9,1492.6 1379.9,1496.9C1380.9,1501.3 1381.7,1505.9 1381.9,1510.9C1382.1,1515.9 1381.7,1521.6 1380.9,1526.9C1380.1,1532.3 1378.4,1537.6 1376.9,1542.9C1375.4,1548.2 1373.6,1553.9 1371.9,1558.9C1370.2,1563.9 1368.7,1568.2 1366.9,1572.9C1365.1,1577.6 1363.6,1582.2 1360.9,1586.9C1358.2,1591.6 1354.6,1596.6 1350.9,1600.9C1347.2,1605.2 1342.9,1608.9 1338.9,1612.9C1334.9,1616.9 1330.9,1620.9 1326.9,1624.9C1322.9,1628.9 1318.9,1633.4 1314.9,1636.9C1310.9,1640.4 1306.9,1643.8 1302.9,1645.9C1298.9,1647.9 1294.9,1648.9 1290.9,1649.3C1286.9,1649.6 1282.9,1648.9 1278.9,1647.9C1274.9,1646.8 1270.9,1644.7 1266.9,1642.9C1262.9,1641.0 1258.6,1638.9 1255.0,1636.9C1251.3,1634.9 1247.8,1633.5 1245.0,1630.9C1242.1,1628.2 1239.7,1624.5 1238.0,1620.9C1236.2,1617.2 1235.4,1613.2 1234.6,1608.9C1233.7,1604.6 1233.6,1599.9 1233.0,1594.9C1232.4,1589.9 1232.0,1584.2 1231.0,1578.9C1230.0,1573.6 1227.9,1568.2 1227.0,1562.9C1226.1,1557.6 1225.8,1549.6 1225.6,1546.9Z" fill="none" stroke="#000" stroke-opacity="0.5" stroke-width="3" stroke-linejoin="round"/>
<path d="M1226.2,1445.4L1289.7,1445.0C1291.3,1445.5 1295.9,1447.1 1298.9,1448.2C1302.0,1449.3 1304.9,1450.2 1307.9,1451.6C1311.0,1452.9 1314.3,1454.4 1317.1,1456.2C1320.0,1457.9 1322.3,1459.8 1324.9,1462.2C1327.5,1464.6 1330.3,1467.6 1332.9,1470.6C1335.5,1473.5 1337.8,1477.1 1340.5,1480.0C1343.2,1482.8 1346.2,1485.4 1349.3,1487.5C1352.4,1489.7 1356.1,1490.4 1358.9,1492.9C1361.7,1495.5 1364.2,1498.9 1365.9,1502.9C1367.6,1506.9 1368.6,1512.3 1368.9,1516.9C1369.2,1521.6 1368.7,1525.9 1367.9,1530.9C1367.1,1535.9 1365.7,1541.9 1363.9,1546.9C1362.1,1551.9 1359.7,1555.9 1356.9,1560.9C1354.1,1565.9 1350.6,1571.6 1346.9,1576.9C1343.2,1582.2 1338.9,1587.9 1334.9,1592.9C1330.9,1597.9 1326.9,1602.6 1322.9,1606.9C1318.9,1611.2 1314.9,1615.4 1310.9,1618.9C1306.9,1622.4 1302.9,1625.7 1298.9,1627.9C1294.9,1630.0 1290.9,1631.5 1286.9,1631.9C1282.9,1632.2 1278.9,1631.4 1274.9,1629.9C1270.9,1628.4 1266.6,1625.7 1262.9,1622.9C1259.3,1620.0 1255.6,1616.5 1253.0,1612.9C1250.3,1609.2 1248.6,1605.2 1247.0,1600.9C1245.3,1596.6 1244.3,1591.6 1243.0,1586.9C1241.6,1582.2 1240.5,1577.6 1239.0,1572.9C1237.5,1568.2 1235.8,1563.6 1234.0,1558.9C1232.1,1554.2 1229.3,1549.6 1228.0,1544.9C1226.6,1540.3 1226.3,1533.3 1226.0,1530.9Z" fill="none" stroke="#000" stroke-opacity="0.5" stroke-width="3" stroke-linejoin="round"/>
<path d="M1226.2,1461.4C1226.5,1460.5 1227.2,1458.0 1228.0,1456.2C1228.8,1454.4 1229.7,1452.1 1231.0,1450.6C1232.3,1449.0 1234.1,1447.9 1235.8,1447.0C1237.5,1446.1 1237.2,1445.5 1241.2,1445.2C1245.1,1444.8 1254.8,1444.5 1259.4,1445.0C1263.9,1445.4 1265.0,1446.9 1268.5,1448.0C1272.1,1449.0 1276.7,1450.0 1280.7,1451.2C1284.8,1452.3 1288.7,1453.6 1292.7,1455.0C1296.8,1456.3 1301.4,1457.9 1304.9,1459.2C1308.5,1460.5 1311.6,1461.4 1314.1,1462.8C1316.7,1464.2 1318.1,1465.5 1320.1,1467.6C1322.1,1469.6 1324.3,1472.3 1326.1,1475.0C1327.9,1477.6 1329.6,1480.2 1331.1,1483.3C1332.6,1486.5 1334.1,1490.0 1335.3,1493.7C1336.5,1497.5 1337.4,1502.4 1338.3,1505.9C1339.2,1509.5 1339.7,1512.1 1340.5,1514.9C1341.3,1517.8 1342.3,1519.9 1342.9,1522.9C1343.5,1525.9 1344.4,1528.9 1343.9,1532.9C1343.4,1536.9 1341.7,1542.6 1339.9,1546.9C1338.1,1551.2 1335.4,1555.2 1332.9,1558.9C1330.4,1562.6 1327.6,1566.6 1324.9,1568.9C1322.3,1571.2 1319.3,1572.9 1316.9,1572.9C1314.6,1572.9 1312.9,1570.6 1310.9,1568.9C1308.9,1567.2 1307.1,1564.1 1304.9,1562.9C1302.8,1561.7 1300.3,1561.4 1297.9,1561.9C1295.6,1562.4 1293.3,1563.9 1290.9,1565.9C1288.6,1567.9 1286.3,1571.6 1283.9,1573.9C1281.6,1576.2 1279.4,1578.9 1276.9,1579.9C1274.4,1580.9 1271.6,1580.7 1268.9,1579.9C1266.3,1579.1 1263.6,1577.1 1260.9,1574.9C1258.3,1572.7 1255.6,1569.9 1253.0,1566.9C1250.3,1563.9 1247.6,1560.6 1245.0,1556.9C1242.3,1553.2 1239.5,1548.9 1237.0,1544.9C1234.5,1540.9 1231.8,1536.6 1230.0,1532.9C1228.2,1529.3 1226.8,1524.6 1226.2,1522.9Z" fill="none" stroke="#000" stroke-opacity="0.5" stroke-width="3" stroke-linejoin="round"/>
<path d="M1253.0,1475.4C1255.3,1475.6 1259.6,1476.5 1262.9,1478.0C1266.3,1479.4 1269.8,1481.6 1272.9,1483.9C1276.1,1486.3 1279.7,1489.1 1281.9,1491.9C1284.2,1494.8 1286.0,1497.8 1286.5,1500.9C1287.0,1504.1 1286.2,1507.9 1284.9,1510.9C1283.7,1513.9 1281.6,1517.1 1278.9,1518.9C1276.3,1520.8 1272.4,1521.8 1268.9,1521.9C1265.4,1522.1 1261.3,1521.4 1258.0,1519.9C1254.6,1518.4 1251.5,1515.8 1249.0,1512.9C1246.4,1510.1 1244.0,1506.6 1242.6,1502.9C1241.2,1499.3 1240.3,1494.6 1240.6,1490.9C1240.8,1487.3 1242.6,1483.3 1244.0,1480.9C1245.4,1478.6 1247.5,1477.5 1249.0,1476.6C1250.5,1475.6 1250.6,1475.1 1253.0,1475.4Z" fill="none" stroke="#000" stroke-opacity="0.5" stroke-width="3" stroke-linejoin="round"/>
</g></g>
<rect x="1204" y="1424" width="300" height="300" fill="none" stroke="#000" stroke-width="2"/>
<g><clipPath id="c44"><rect x="1540" y="1424" width="300" height="300"/></clipPath>
<g clip-path="url(#c44)">
<path d="M1540.0,1724L1540.0,1715.2L1590.0,1715.2L1590.0,1696.4L1639.9,1696.4L1639.9,1641.3L1689.9,1641.3L1689.9,1616.3L1739.9,1616.3L1739.9,1438.6L1790.0,1438.6L1790.0,1683.8L1842.8,1683.8L1842.8,1724Z" fill="#e7e7e7"/>
<path d="M1590.0,1715.2L1590.0,1696.4L1639.9,1696.4L1639.9,1641.3L1689.9,1641.3L1689.9,1616.3L1739.9,1616.3L1739.9,1438.6L1790.0,1438.6L1790.0,1683.8L1842.8,1683.8" fill="none" stroke="#858585" stroke-width="3" stroke-linejoin="miter"/>
<line x1="1670.5" y1="1427" x2="1670.5" y2="1724" stroke="#757575" stroke-width="3" stroke-dasharray="9 9"/>
<line x1="1752.1" y1="1427" x2="1752.1" y2="1724" stroke="#757575" stroke-width="3" stroke-dasharray="9 9"/>
<line x1="1779.5" y1="1427" x2="1779.5" y2="1724" stroke="#757575" stroke-width="3" stroke-dasharray="9 9"/>
<path d="M1559.0,1717.2C1561.0,1716.8 1567.0,1715.5 1571.0,1714.4C1575.0,1713.4 1579.3,1712.2 1583.0,1710.8C1586.6,1709.5 1589.6,1708.2 1593.0,1706.4C1596.3,1704.7 1599.6,1702.7 1602.9,1700.4C1606.3,1698.2 1609.6,1695.7 1612.9,1692.8C1616.3,1690.0 1619.6,1686.6 1622.9,1683.2C1626.3,1679.9 1629.6,1676.3 1632.9,1672.8C1636.3,1669.4 1639.6,1665.7 1642.9,1662.5C1646.3,1659.2 1649.6,1656.0 1652.9,1653.3C1656.3,1650.5 1659.6,1648.0 1662.9,1645.9C1666.2,1643.7 1669.6,1642.2 1672.9,1640.5C1676.2,1638.7 1679.9,1637.0 1682.9,1635.3C1685.9,1633.5 1688.2,1632.1 1690.9,1629.9C1693.6,1627.6 1696.2,1625.2 1698.9,1621.9C1701.6,1618.5 1704.2,1614.5 1706.9,1609.9C1709.6,1605.2 1712.2,1599.9 1714.9,1593.9C1717.6,1587.9 1720.2,1581.1 1722.9,1573.9C1725.5,1566.7 1728.2,1558.4 1730.9,1550.9C1733.5,1543.4 1736.2,1535.4 1738.9,1528.9C1741.5,1522.4 1744.2,1516.4 1746.9,1511.9C1749.5,1507.4 1752.5,1504.2 1754.9,1501.9C1757.2,1499.6 1759.2,1498.9 1760.9,1498.1C1762.5,1497.4 1763.5,1497.4 1764.9,1497.5C1766.2,1497.7 1767.5,1498.0 1768.9,1498.9C1770.2,1499.8 1771.2,1500.3 1772.9,1502.9C1774.5,1505.6 1776.9,1509.9 1778.9,1514.9C1780.9,1519.9 1782.9,1525.9 1784.8,1532.9C1786.8,1539.9 1788.8,1548.7 1790.8,1556.9C1792.8,1565.1 1794.8,1573.7 1796.8,1581.9C1798.8,1590.1 1800.8,1598.2 1802.8,1605.9C1804.8,1613.5 1806.8,1621.0 1808.8,1627.9C1810.8,1634.7 1813.2,1641.7 1814.8,1646.9C1816.5,1652.0 1818.2,1656.9 1818.8,1658.9" fill="none" stroke="#000" stroke-width="3" stroke-linejoin="round"/>
</g></g>
<rect x="1540" y="1424" width="300" height="300" fill="none" stroke="#000" stroke-width="2"/>
<g stroke="#000" stroke-width="2" fill="none">
<line x1="244.8" y1="1724" x2="244.8" y2="1735"/>
<line x1="300.5" y1="1724" x2="300.5" y2="1735"/>
<line x1="356.2" y1="1724" x2="356.2" y2="1735"/>
<line x1="411.9" y1="1724" x2="411.9" y2="1735"/>
<line x1="467.6" y1="1724" x2="467.6" y2="1735"/>
<line x1="568.0" y1="1724" x2="568.0" y2="1735"/>
<line x1="697.0" y1="1724" x2="697.0" y2="1735"/>
<line x1="826.0" y1="1724" x2="826.0" y2="1735"/>
<line x1="908.0" y1="1724" x2="908.0" y2="1735"/>
<line x1="988.0" y1="1724" x2="988.0" y2="1735"/>
<line x1="1068.0" y1="1724" x2="1068.0" y2="1735"/>
<line x1="1148.0" y1="1724" x2="1148.0" y2="1735"/>
<line x1="1226.7" y1="1724" x2="1226.7" y2="1735"/>
<line x1="1306.0" y1="1724" x2="1306.0" y2="1735"/>
<line x1="1385.3" y1="1724" x2="1385.3" y2="1735"/>
<line x1="1464.6" y1="1724" x2="1464.6" y2="1735"/>
<line x1="1540.3" y1="1724" x2="1540.3" y2="1735"/>
<line x1="1590.2" y1="1724" x2="1590.2" y2="1735"/>
<line x1="1640.1" y1="1724" x2="1640.1" y2="1735"/>
<line x1="1690.0" y1="1724" x2="1690.0" y2="1735"/>
<line x1="1739.9" y1="1724" x2="1739.9" y2="1735"/>
<line x1="1789.8" y1="1724" x2="1789.8" y2="1735"/>
<line x1="1839.7" y1="1724" x2="1839.7" y2="1735"/>
<line x1="185" y1="692.7" x2="196" y2="692.7"/>
<line x1="185" y1="635.2" x2="196" y2="635.2"/>
<line x1="185" y1="577.6" x2="196" y2="577.6"/>
<line x1="185" y1="520.1" x2="196" y2="520.1"/>
<line x1="185" y1="462.5" x2="196" y2="462.5"/>
<line x1="185" y1="1025.8" x2="196" y2="1025.8"/>
<line x1="185" y1="930.2" x2="196" y2="930.2"/>
<line x1="185" y1="834.6" x2="196" y2="834.6"/>
<line x1="185" y1="1373.9" x2="196" y2="1373.9"/>
<line x1="185" y1="1291.6" x2="196" y2="1291.6"/>
<line x1="185" y1="1209.3" x2="196" y2="1209.3"/>
<line x1="185" y1="1127.0" x2="196" y2="1127.0"/>
<line x1="185" y1="1721.0" x2="196" y2="1721.0"/>
<line x1="185" y1="1671.6" x2="196" y2="1671.6"/>
<line x1="185" y1="1622.2" x2="196" y2="1622.2"/>
<line x1="185" y1="1572.8" x2="196" y2="1572.8"/>
<line x1="185" y1="1523.4" x2="196" y2="1523.4"/>
<line x1="185" y1="1474.0" x2="196" y2="1474.0"/>
<line x1="185" y1="1424.6" x2="196" y2="1424.6"/>
</g>
<g class="t" text-anchor="end">
<text transform="translate(244.8,1740.5) rotate(-45)" x="0" y="26.0">0.90</text>
<text transform="translate(300.5,1740.5) rotate(-45)" x="0" y="26.0">0.95</text>
<text transform="translate(356.2,1740.5) rotate(-45)" x="0" y="26.0">1.00</text>
<text transform="translate(411.9,1740.5) rotate(-45)" x="0" y="26.0">1.05</text>
<text transform="translate(467.6,1740.5) rotate(-45)" x="0" y="26.0">1.10</text>
<text transform="translate(568.0,1740.5) rotate(-45)" x="0" y="26.0">0.0</text>
<text transform="translate(697.0,1740.5) rotate(-45)" x="0" y="26.0">0.5</text>
<text transform="translate(826.0,1740.5) rotate(-45)" x="0" y="26.0">1.0</text>
<text transform="translate(908.0,1740.5) rotate(-45)" x="0" y="26.0">1</text>
<text transform="translate(988.0,1740.5) rotate(-45)" x="0" y="26.0">2</text>
<text transform="translate(1068.0,1740.5) rotate(-45)" x="0" y="26.0">3</text>
<text transform="translate(1148.0,1740.5) rotate(-45)" x="0" y="26.0">4</text>
<text transform="translate(1226.7,1740.5) rotate(-45)" x="0" y="26.0">0</text>
<text transform="translate(1306.0,1740.5) rotate(-45)" x="0" y="26.0">1</text>
<text transform="translate(1385.3,1740.5) rotate(-45)" x="0" y="26.0">2</text>
<text transform="translate(1464.6,1740.5) rotate(-45)" x="0" y="26.0">3</text>
<text transform="translate(1540.3,1740.5) rotate(-45)" x="0" y="26.0">20</text>
<text transform="translate(1590.2,1740.5) rotate(-45)" x="0" y="26.0">30</text>
<text transform="translate(1640.1,1740.5) rotate(-45)" x="0" y="26.0">40</text>
<text transform="translate(1690.0,1740.5) rotate(-45)" x="0" y="26.0">50</text>
<text transform="translate(1739.9,1740.5) rotate(-45)" x="0" y="26.0">60</text>
<text transform="translate(1789.8,1740.5) rotate(-45)" x="0" y="26.0">70</text>
<text transform="translate(1839.7,1740.5) rotate(-45)" x="0" y="26.0">80</text>
<text transform="translate(176.0,692.7) rotate(-45)" x="0" y="10.0">0.0</text>
<text transform="translate(176.0,635.2) rotate(-45)" x="0" y="10.0">0.2</text>
<text transform="translate(176.0,577.6) rotate(-45)" x="0" y="10.0">0.4</text>
<text transform="translate(176.0,520.1) rotate(-45)" x="0" y="10.0">0.6</text>
<text transform="translate(176.0,462.5) rotate(-45)" x="0" y="10.0">0.8</text>
<text transform="translate(176.0,1025.8) rotate(-45)" x="0" y="10.0">1</text>
<text transform="translate(176.0,930.2) rotate(-45)" x="0" y="10.0">2</text>
<text transform="translate(176.0,834.6) rotate(-45)" x="0" y="10.0">3</text>
<text transform="translate(176.0,1373.9) rotate(-45)" x="0" y="10.0">0</text>
<text transform="translate(176.0,1291.6) rotate(-45)" x="0" y="10.0">1</text>
<text transform="translate(176.0,1209.3) rotate(-45)" x="0" y="10.0">2</text>
<text transform="translate(176.0,1127.0) rotate(-45)" x="0" y="10.0">3</text>
<text transform="translate(176.0,1721.0) rotate(-45)" x="0" y="10.0">20</text>
<text transform="translate(176.0,1671.6) rotate(-45)" x="0" y="10.0">30</text>
<text transform="translate(176.0,1622.2) rotate(-45)" x="0" y="10.0">40</text>
<text transform="translate(176.0,1572.8) rotate(-45)" x="0" y="10.0">50</text>
<text transform="translate(176.0,1523.4) rotate(-45)" x="0" y="10.0">60</text>
<text transform="translate(176.0,1474.0) rotate(-45)" x="0" y="10.0">70</text>
<text transform="translate(176.0,1424.6) rotate(-45)" x="0" y="10.0">80</text>
</g>
<g class="t" text-anchor="middle">
<text x="346.0" y="1853.7">M [M<tspan class="dj">⊙</tspan>]</text>
<text x="342.0" y="1886.4">total mass</text>
<text x="682.0" y="1853.7">b_e</text>
<text x="682.0" y="1886.4">eccentricity</text>
<text x="1018.0" y="1853.7">b_a [au]</text>
<text x="1018.0" y="1886.4">semi-major axis</text>
<text x="1354.0" y="1853.7">b_mass [M<tspan class="dj sub">ⱼᵤₚ</tspan>]</text>
<text x="1354.0" y="1886.4">mass</text>
<text x="1690.0" y="1853.7">b_i [°]</text>
<text x="1690.0" y="1886.4">inclination</text>
<text transform="translate(57.1,566.0) rotate(-90)">b_e</text>
<text transform="translate(89.7,566.0) rotate(-90)">eccentricity</text>
<text transform="translate(57.1,902.0) rotate(-90)">b_a [au]</text>
<text transform="translate(89.7,902.0) rotate(-90)">semi-major axis</text>
<text transform="translate(57.1,1238.0) rotate(-90)">b_mass [M<tspan class="dj sub">ⱼᵤₚ</tspan>]</text>
<text transform="translate(89.7,1238.0) rotate(-90)">mass</text>
<text transform="translate(57.1,1574.0) rotate(-90)">b_i [°]</text>
<text transform="translate(89.7,1574.0) rotate(-90)">inclination</text>
</g>
<g class="t">
<text x="295.3" y="61">0.99</text>
<text class="ss" x="396.7" y="49.8" text-anchor="end">+0.04</text>
<text class="ss" x="396.7" y="68" text-anchor="end">-0.03</text>
<text x="644.3" y="397">0.5</text>
<text class="ss" x="719.7" y="385.8" text-anchor="end">+0.3</text>
<text class="ss" x="719.7" y="404" text-anchor="end">-0.4</text>
<text x="980.3" y="733">1.5</text>
<text class="ss" x="1055.7" y="721.8" text-anchor="end">+0.6</text>
<text class="ss" x="1055.7" y="740" text-anchor="end">-0.4</text>
<text x="1316.3" y="1069">0.7</text>
<text class="ss" x="1391.7" y="1057.8" text-anchor="end">+0.7</text>
<text class="ss" x="1391.7" y="1076" text-anchor="end">-0.5</text>
<text x="1661.1" y="1405">62</text>
<text class="ss" x="1718.9" y="1393.8" text-anchor="end">+5</text>
<text class="ss" x="1718.9" y="1412" text-anchor="end">-16</text>
</g>
<rect x="1876" y="80" width="118" height="64" fill="#fff" stroke="#000" stroke-width="2"/>
<line x1="1887.4" y1="112" x2="1927.4" y2="112" stroke="#808080" stroke-width="3"/>
<text class="t" x="1938" y="121.9">test</text>
</svg>
</body></html>
